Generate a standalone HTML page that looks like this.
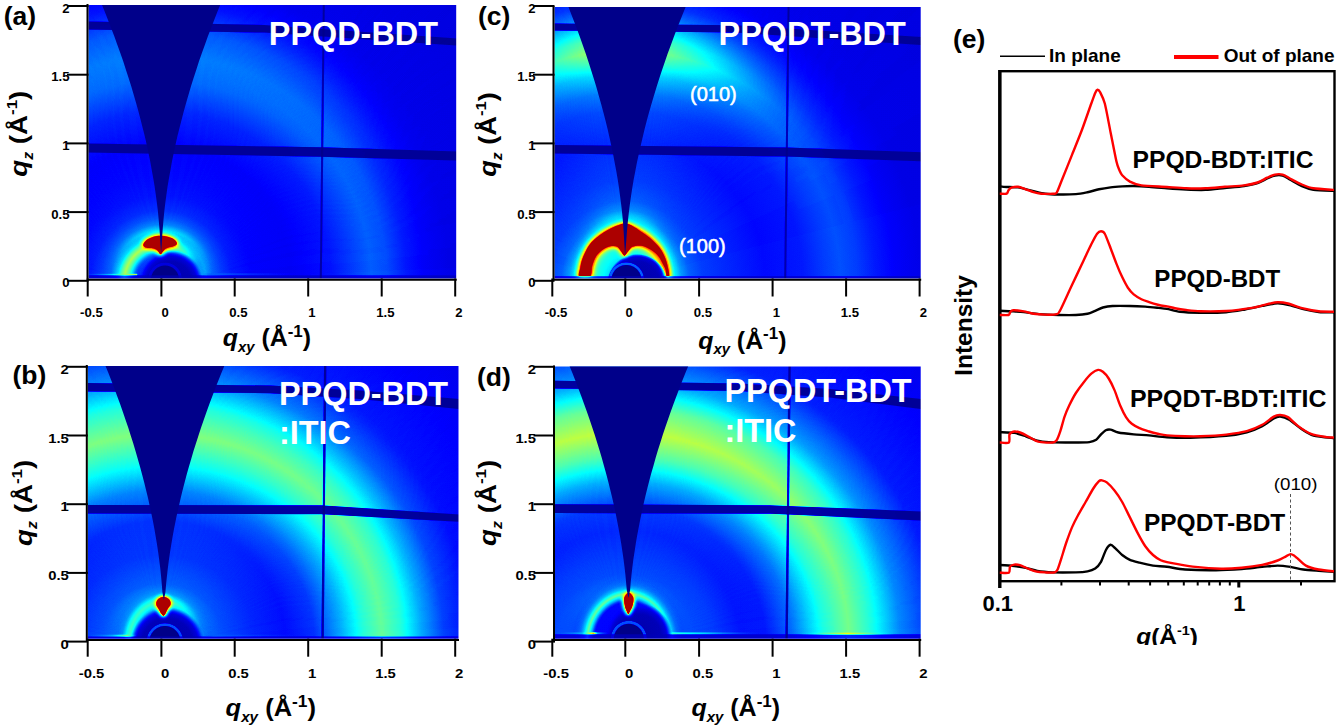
<!DOCTYPE html>
<html><head><meta charset="utf-8"><title>GIWAXS</title>
<style>
html,body{margin:0;padding:0;background:#fff;}
body{width:1339px;height:727px;overflow:hidden;}
svg{display:block;font-family:"Liberation Sans", sans-serif;}

</style></head><body>
<svg width="1339" height="727" viewBox="0 0 1339 727">
<defs>
<filter id="jet" x="0" y="0" width="100%" height="100%" filterUnits="userSpaceOnUse" color-interpolation-filters="sRGB">
<feComponentTransfer>
<feFuncR type="table" tableValues="0 0 0 0 .5 1 1 1 .55"/>
<feFuncG type="table" tableValues="0 0 .5 1 1 1 .5 0 0"/>
<feFuncB type="table" tableValues=".54 1 1 1 .5 0 0 0 0"/>
</feComponentTransfer></filter>
<clipPath id="clipa"><rect x="88.5" y="5" width="367.7" height="273.5"/></clipPath>
<radialGradient id="Aa" gradientUnits="userSpaceOnUse" cx="0" cy="0" r="1" gradientTransform="translate(161.4 280.8) scale(400.00 400.00)"><stop offset="0.0000" stop-color="#0d0d0d"/><stop offset="0.1125" stop-color="#474747"/><stop offset="0.1300" stop-color="#383838"/><stop offset="0.1525" stop-color="#2e2e2e"/><stop offset="0.1775" stop-color="#262626"/><stop offset="0.2250" stop-color="#202020"/><stop offset="0.3250" stop-color="#1e1e1e"/><stop offset="0.4250" stop-color="#252525"/><stop offset="0.4825" stop-color="#303030"/><stop offset="0.5250" stop-color="#383838"/><stop offset="0.5650" stop-color="#333333"/><stop offset="0.6125" stop-color="#262626"/><stop offset="0.6575" stop-color="#1f1f1f"/><stop offset="0.7200" stop-color="#1a1a1a"/><stop offset="1.0000" stop-color="#181818"/></radialGradient>
<radialGradient id="Ba" gradientUnits="userSpaceOnUse" cx="0" cy="0" r="1" gradientTransform="translate(161.4 280.8) scale(400.00 400.00)"><stop offset="0.0000" stop-color="#0d0d0d"/><stop offset="0.1250" stop-color="#5c5c5c"/><stop offset="0.1400" stop-color="#424242"/><stop offset="0.1550" stop-color="#363636"/><stop offset="0.1750" stop-color="#2c2c2c"/><stop offset="0.2125" stop-color="#252525"/><stop offset="0.2625" stop-color="#222222"/><stop offset="0.3375" stop-color="#202020"/><stop offset="0.4250" stop-color="#2a2a2a"/><stop offset="0.5000" stop-color="#3b3b3b"/><stop offset="0.5625" stop-color="#404040"/><stop offset="0.6250" stop-color="#383838"/><stop offset="0.6900" stop-color="#252525"/><stop offset="0.7550" stop-color="#1c1c1c"/><stop offset="1.0000" stop-color="#181818"/></radialGradient>
<filter id="blMa" filterUnits="userSpaceOnUse" x="66.5" y="-17.0" width="411.7" height="317.5" color-interpolation-filters="sRGB"><feGaussianBlur stdDeviation="3.5"/></filter>
<mask id="Ma" maskUnits="userSpaceOnUse" x="86.5" y="3.0" width="371.7" height="277.5"><g filter="url(#blMa)"><rect x="56.5" y="-27.0" width="431.7" height="337.5" fill="#000000"/><path fill="#000000" d="M161 281 L-292 361 L-283 162 L-191 -15 L-33 -136 L161 -179 L356 -136 L514 -15 L606 162 L614 361 Z"/><path fill="#010101" d="M161 281 L-298 265 L-248 72 L-122 -82 L58 -167 L257 -169 L438 -87 L568 65 L621 257 L614 361 Z"/><path fill="#030303" d="M161 281 L-297 241 L-237 51 L-102 -96 L82 -172 L280 -164 L457 -72 L578 86 L621 281 L614 361 Z"/><path fill="#040404" d="M161 281 L-296 229 L-231 40 L-92 -103 L93 -174 L292 -160 L466 -64 L583 97 L621 293 L614 361 Z"/><path fill="#060606" d="M161 281 L-294 217 L-224 30 L-82 -109 L105 -176 L304 -157 L475 -56 L588 108 L621 305 L614 361 Z"/><path fill="#080808" d="M161 281 L-292 205 L-218 20 L-72 -116 L117 -177 L315 -153 L484 -47 L592 120 L620 317 L614 361 Z"/><path fill="#0b0b0b" d="M161 281 L-290 193 L-211 10 L-62 -122 L129 -178 L326 -149 L492 -39 L596 131 L619 329 L614 361 Z"/><path fill="#0d0d0d" d="M161 281 L-288 181 L-204 1 L-51 -127 L141 -179 L337 -144 L501 -30 L600 142 L617 341 L614 361 Z"/><path fill="#111111" d="M161 281 L-285 170 L-196 -9 L-40 -133 L153 -179 L348 -139 L509 -21 L604 154 L616 353 L614 361 Z"/><path fill="#141414" d="M161 281 L-282 158 L-188 -18 L-29 -138 L165 -179 L359 -134 L516 -12 L607 166 L614 361 Z"/><path fill="#181818" d="M161 281 L-279 146 L-180 -27 L-18 -143 L177 -179 L370 -129 L524 -2 L610 177 L614 361 Z"/><path fill="#1c1c1c" d="M161 281 L-275 135 L-172 -36 L-7 -147 L189 -178 L381 -123 L531 7 L612 189 L614 361 Z"/><path fill="#202020" d="M161 281 L-271 123 L-164 -44 L4 -151 L201 -177 L391 -118 L538 17 L614 201 L614 361 Z"/><path fill="#252525" d="M161 281 L-267 112 L-155 -53 L15 -155 L213 -176 L402 -111 L545 27 L616 213 L614 361 Z"/><path fill="#292929" d="M161 281 L-262 101 L-146 -61 L27 -159 L225 -175 L412 -105 L552 37 L618 225 L614 361 Z"/><path fill="#2e2e2e" d="M161 281 L-257 90 L-137 -69 L38 -162 L237 -173 L422 -98 L558 47 L619 237 L614 361 Z"/><path fill="#343434" d="M161 281 L-252 79 L-128 -77 L50 -166 L249 -171 L432 -91 L564 58 L620 249 L614 361 Z"/><path fill="#393939" d="M161 281 L-247 68 L-119 -84 L62 -168 L261 -168 L441 -84 L569 68 L621 261 L614 361 Z"/><path fill="#3f3f3f" d="M161 281 L-241 58 L-109 -91 L74 -171 L273 -166 L451 -77 L575 79 L621 273 L614 361 Z"/><path fill="#454545" d="M161 281 L-235 47 L-99 -98 L85 -173 L284 -162 L460 -69 L580 90 L621 285 L614 361 Z"/><path fill="#4b4b4b" d="M161 281 L-229 37 L-89 -105 L97 -175 L296 -159 L469 -61 L585 101 L621 297 L614 361 Z"/><path fill="#515151" d="M161 281 L-222 27 L-79 -111 L109 -176 L307 -155 L478 -53 L589 112 L621 309 L614 361 Z"/><path fill="#575757" d="M161 281 L-215 17 L-69 -118 L121 -177 L319 -151 L487 -44 L594 123 L620 321 L614 361 Z"/><path fill="#5d5d5d" d="M161 281 L-208 7 L-58 -123 L133 -178 L330 -147 L495 -36 L598 135 L618 333 L614 361 Z"/><path fill="#646464" d="M161 281 L-201 -2 L-47 -129 L145 -179 L341 -143 L503 -27 L601 146 L617 345 L614 361 Z"/><path fill="#6a6a6a" d="M161 281 L-194 -12 L-37 -134 L157 -179 L352 -138 L511 -18 L605 158 L615 357 L614 361 Z"/><path fill="#717171" d="M161 281 L-186 -21 L-26 -139 L169 -179 L363 -133 L519 -9 L608 170 L614 361 Z"/><path fill="#787878" d="M161 281 L-178 -30 L-15 -144 L181 -179 L374 -127 L526 1 L610 181 L614 361 Z"/><path fill="#7e7e7e" d="M161 281 L-169 -39 L-3 -149 L193 -178 L384 -122 L534 10 L613 193 L614 361 Z"/><path fill="#858585" d="M161 281 L-161 -47 L8 -153 L205 -177 L395 -116 L540 20 L615 205 L614 361 Z"/><path fill="#8c8c8c" d="M161 281 L-152 -56 L19 -157 L217 -176 L405 -109 L547 30 L617 217 L614 361 Z"/><path fill="#929292" d="M161 281 L-143 -64 L31 -160 L229 -174 L415 -103 L554 40 L618 229 L614 361 Z"/><path fill="#999999" d="M161 281 L-134 -72 L42 -164 L241 -172 L425 -96 L560 51 L620 241 L614 361 Z"/><path fill="#9f9f9f" d="M161 281 L-125 -79 L54 -166 L253 -170 L435 -89 L566 61 L621 253 L614 361 Z"/><path fill="#a6a6a6" d="M161 281 L-115 -87 L66 -169 L265 -167 L445 -82 L571 72 L621 265 L614 361 Z"/><path fill="#acacac" d="M161 281 L-106 -94 L78 -171 L277 -165 L454 -74 L577 83 L621 277 L614 361 Z"/><path fill="#b2b2b2" d="M161 281 L-96 -101 L89 -174 L288 -161 L463 -66 L582 94 L621 289 L614 361 Z"/><path fill="#b8b8b8" d="M161 281 L-86 -107 L101 -175 L300 -158 L472 -58 L586 105 L621 301 L614 361 Z"/><path fill="#bebebe" d="M161 281 L-76 -113 L113 -177 L311 -154 L481 -50 L591 116 L620 313 L614 361 Z"/><path fill="#c4c4c4" d="M161 281 L-65 -120 L125 -178 L322 -150 L489 -42 L595 127 L619 325 L614 361 Z"/><path fill="#cacaca" d="M161 281 L-55 -125 L137 -179 L334 -146 L498 -33 L599 139 L618 337 L614 361 Z"/><path fill="#cfcfcf" d="M161 281 L-44 -131 L149 -179 L345 -141 L506 -24 L602 150 L616 349 L614 361 Z"/><path fill="#d4d4d4" d="M161 281 L-33 -136 L161 -179 L356 -136 L514 -15 L606 162 L614 361 Z"/><path fill="#d9d9d9" d="M161 281 L-22 -141 L173 -179 L367 -131 L521 -6 L609 173 L614 361 Z"/><path fill="#dedede" d="M161 281 L-11 -146 L185 -179 L377 -125 L529 4 L611 185 L614 361 Z"/><path fill="#e2e2e2" d="M161 281 L0 -150 L197 -178 L388 -120 L536 14 L614 197 L614 361 Z"/><path fill="#e6e6e6" d="M161 281 L12 -154 L209 -177 L398 -113 L543 24 L616 209 L614 361 Z"/><path fill="#eaeaea" d="M161 281 L23 -158 L221 -175 L409 -107 L549 34 L617 221 L614 361 Z"/><path fill="#ededed" d="M161 281 L35 -161 L233 -174 L419 -101 L556 44 L619 233 L614 361 Z"/><path fill="#f1f1f1" d="M161 281 L46 -165 L245 -171 L429 -94 L562 54 L620 245 L614 361 Z"/><path fill="#f4f4f4" d="M161 281 L58 -167 L257 -169 L438 -87 L568 65 L621 257 L614 361 Z"/><path fill="#f6f6f6" d="M161 281 L70 -170 L269 -166 L448 -79 L573 76 L621 269 L614 361 Z"/><path fill="#f8f8f8" d="M161 281 L82 -172 L280 -164 L457 -72 L578 86 L621 281 L614 361 Z"/><path fill="#fafafa" d="M161 281 L93 -174 L292 -160 L466 -64 L583 97 L621 293 L614 361 Z"/><path fill="#fcfcfc" d="M161 281 L105 -176 L304 -157 L475 -56 L588 108 L621 305 L614 361 Z"/><path fill="#fdfdfd" d="M161 281 L117 -177 L315 -153 L484 -47 L592 120 L620 317 L614 361 Z"/><path fill="#fefefe" d="M161 281 L129 -178 L326 -149 L492 -39 L596 131 L619 329 L614 361 Z"/><path fill="#ffffff" d="M161 281 L141 -179 L337 -144 L501 -30 L600 142 L617 341 L614 361 Z"/><path fill="#fefefe" d="M161 281 L177 -179 L370 -129 L524 -2 L610 177 L614 361 Z"/><path fill="#fcfcfc" d="M161 281 L201 -177 L391 -118 L538 17 L614 201 L614 361 Z"/><path fill="#fbfbfb" d="M161 281 L213 -176 L402 -111 L545 27 L616 213 L614 361 Z"/><path fill="#f9f9f9" d="M161 281 L225 -175 L412 -105 L552 37 L618 225 L614 361 Z"/><path fill="#f7f7f7" d="M161 281 L237 -173 L422 -98 L558 47 L619 237 L614 361 Z"/><path fill="#f4f4f4" d="M161 281 L249 -171 L432 -91 L564 58 L620 249 L614 361 Z"/><path fill="#f2f2f2" d="M161 281 L261 -168 L441 -84 L569 68 L621 261 L614 361 Z"/><path fill="#eeeeee" d="M161 281 L273 -166 L451 -77 L575 79 L621 273 L614 361 Z"/><path fill="#ebebeb" d="M161 281 L284 -162 L460 -69 L580 90 L621 285 L614 361 Z"/><path fill="#e7e7e7" d="M161 281 L296 -159 L469 -61 L585 101 L621 297 L614 361 Z"/><path fill="#e3e3e3" d="M161 281 L307 -155 L478 -53 L589 112 L621 309 L614 361 Z"/><path fill="#dfdfdf" d="M161 281 L319 -151 L487 -44 L594 123 L620 321 L614 361 Z"/><path fill="#dadada" d="M161 281 L330 -147 L495 -36 L598 135 L618 333 L614 361 Z"/><path fill="#d6d6d6" d="M161 281 L341 -143 L503 -27 L601 146 L617 345 L614 361 Z"/><path fill="#d1d1d1" d="M161 281 L352 -138 L511 -18 L605 158 L615 357 L614 361 Z"/><path fill="#cbcbcb" d="M161 281 L363 -133 L519 -9 L608 170 L614 361 Z"/><path fill="#c6c6c6" d="M161 281 L374 -127 L526 1 L610 181 L614 361 Z"/><path fill="#c0c0c0" d="M161 281 L384 -122 L534 10 L613 193 L614 361 Z"/><path fill="#bababa" d="M161 281 L395 -116 L540 20 L615 205 L614 361 Z"/><path fill="#b4b4b4" d="M161 281 L405 -109 L547 30 L617 217 L614 361 Z"/><path fill="#aeaeae" d="M161 281 L415 -103 L554 40 L618 229 L614 361 Z"/><path fill="#a8a8a8" d="M161 281 L425 -96 L560 51 L620 241 L614 361 Z"/><path fill="#a2a2a2" d="M161 281 L435 -89 L566 61 L621 253 L614 361 Z"/><path fill="#9b9b9b" d="M161 281 L445 -82 L571 72 L621 265 L614 361 Z"/><path fill="#959595" d="M161 281 L454 -74 L577 83 L621 277 L614 361 Z"/><path fill="#8e8e8e" d="M161 281 L463 -66 L582 94 L621 289 L614 361 Z"/><path fill="#878787" d="M161 281 L472 -58 L586 105 L621 301 L614 361 Z"/><path fill="#818181" d="M161 281 L481 -50 L591 116 L620 313 L614 361 Z"/><path fill="#7a7a7a" d="M161 281 L489 -42 L595 127 L619 325 L614 361 Z"/><path fill="#737373" d="M161 281 L498 -33 L599 139 L618 337 L614 361 Z"/><path fill="#6d6d6d" d="M161 281 L506 -24 L602 150 L616 349 L614 361 Z"/><path fill="#666666" d="M161 281 L514 -15 L606 162 L614 361 Z"/><path fill="#606060" d="M161 281 L521 -6 L609 173 L614 361 Z"/><path fill="#595959" d="M161 281 L529 4 L611 185 L614 361 Z"/><path fill="#535353" d="M161 281 L536 14 L614 197 L614 361 Z"/><path fill="#4d4d4d" d="M161 281 L543 24 L616 209 L614 361 Z"/><path fill="#474747" d="M161 281 L549 34 L617 221 L614 361 Z"/><path fill="#414141" d="M161 281 L556 44 L619 233 L614 361 Z"/><path fill="#3b3b3b" d="M161 281 L562 54 L620 245 L614 361 Z"/><path fill="#353535" d="M161 281 L568 65 L621 257 L614 361 Z"/><path fill="#303030" d="M161 281 L573 76 L621 269 L614 361 Z"/><path fill="#2b2b2b" d="M161 281 L578 86 L621 281 L614 361 Z"/><path fill="#262626" d="M161 281 L583 97 L621 293 L614 361 Z"/><path fill="#212121" d="M161 281 L588 108 L621 305 L614 361 Z"/><path fill="#1d1d1d" d="M161 281 L592 120 L620 317 L614 361 Z"/><path fill="#191919" d="M161 281 L596 131 L619 329 L614 361 Z"/><path fill="#151515" d="M161 281 L600 142 L617 341 L614 361 Z"/><path fill="#121212" d="M161 281 L604 154 L616 353 L614 361 Z"/><path fill="#0e0e0e" d="M161 281 L607 166 L614 361 Z"/><path fill="#0b0b0b" d="M161 281 L610 177 L614 361 Z"/><path fill="#090909" d="M161 281 L612 189 L614 361 Z"/><path fill="#070707" d="M161 281 L614 201 L614 361 Z"/><path fill="#050505" d="M161 281 L616 213 L614 361 Z"/><path fill="#030303" d="M161 281 L618 225 L614 361 Z"/><path fill="#020202" d="M161 281 L619 237 L614 361 Z"/><path fill="#010101" d="M161 281 L620 249 L614 361 Z"/><path fill="#000000" d="M161 281 L621 261 L614 361 Z"/></g></mask>
<radialGradient id="La0" gradientUnits="userSpaceOnUse" cx="0" cy="0" r="1" gradientTransform="translate(161.4 281) scale(51.00 51.00)"><stop offset="0.4902" stop-color="#333333" stop-opacity="0"/><stop offset="0.5686" stop-color="#4c4c4c"/><stop offset="0.6569" stop-color="#757575"/><stop offset="0.7255" stop-color="#8c8c8c"/><stop offset="0.7941" stop-color="#757575"/><stop offset="0.8627" stop-color="#5c5c5c" stop-opacity="0.8"/><stop offset="1.0000" stop-color="#474747" stop-opacity="0"/></radialGradient>
<filter id="blLMa0" filterUnits="userSpaceOnUse" x="88.4" y="208.0" width="146.0" height="146.0" color-interpolation-filters="sRGB"><feGaussianBlur stdDeviation="1.2"/></filter>
<mask id="LMa0" maskUnits="userSpaceOnUse" x="108.4" y="228.0" width="106.0" height="106.0"><g filter="url(#blLMa0)"><rect x="78.4" y="198.0" width="166.0" height="166.0" fill="#ffffff"/><path fill="#ffffff" d="M161 281 L78 296 L79 259 L96 226 L126 204 L161 196 L197 204 L226 226 L243 259 L245 296 Z"/><path fill="#f6f6f6" d="M161 281 L185 199 L217 217 L239 247 L246 282 L245 296 Z"/><path fill="#ededed" d="M161 281 L188 200 L219 219 L240 249 L246 285 L245 296 Z"/><path fill="#e3e3e3" d="M161 281 L190 201 L221 221 L241 252 L246 288 L245 296 Z"/><path fill="#dadada" d="M161 281 L193 202 L223 223 L242 255 L246 291 L245 296 Z"/><path fill="#d1d1d1" d="M161 281 L196 204 L225 225 L243 258 L245 294 L245 296 Z"/><path fill="#c8c8c8" d="M161 281 L199 205 L227 228 L244 260 L245 296 Z"/><path fill="#bfbfbf" d="M161 281 L201 206 L229 230 L244 263 L245 296 Z"/><path fill="#b6b6b6" d="M161 281 L204 208 L231 232 L245 266 L245 296 Z"/><path fill="#acacac" d="M161 281 L206 209 L233 235 L245 269 L245 296 Z"/><path fill="#a3a3a3" d="M161 281 L209 211 L234 237 L246 272 L245 296 Z"/><path fill="#9a9a9a" d="M161 281 L211 212 L236 240 L246 275 L245 296 Z"/><path fill="#919191" d="M161 281 L214 214 L237 243 L246 278 L245 296 Z"/><path fill="#888888" d="M161 281 L216 216 L238 245 L246 281 L245 296 Z"/><path fill="#7e7e7e" d="M161 281 L218 218 L239 248 L246 284 L245 296 Z"/><path fill="#757575" d="M161 281 L220 220 L241 251 L246 287 L245 296 Z"/><path fill="#6c6c6c" d="M161 281 L222 222 L242 253 L246 290 L245 296 Z"/><path fill="#636363" d="M161 281 L224 224 L242 256 L245 293 L245 296 Z"/><path fill="#5a5a5a" d="M161 281 L226 226 L243 259 L245 296 Z"/><path fill="#515151" d="M161 281 L228 229 L244 262 L245 296 Z"/><path fill="#474747" d="M161 281 L230 231 L245 265 L245 296 Z"/><path fill="#3e3e3e" d="M161 281 L232 234 L245 268 L245 296 Z"/><path fill="#353535" d="M161 281 L233 236 L246 271 L245 296 Z"/><path fill="#2c2c2c" d="M161 281 L235 239 L246 274 L245 296 Z"/><path fill="#232323" d="M161 281 L236 241 L246 277 L245 296 Z"/><path fill="#1a1a1a" d="M161 281 L238 244 L246 280 L245 296 Z"/></g></mask>
<radialGradient id="La1" gradientUnits="userSpaceOnUse" cx="0" cy="0" r="1" gradientTransform="translate(170.7 282.5) scale(32.50 32.50)"><stop offset="0.0000" stop-color="#080808"/><stop offset="0.6462" stop-color="#0d0d0d"/><stop offset="0.8000" stop-color="#161616"/><stop offset="0.8923" stop-color="#1f1f1f" stop-opacity="0.75"/><stop offset="1.0000" stop-color="#333333" stop-opacity="0"/></radialGradient>
<filter id="La2" filterUnits="userSpaceOnUse" x="128" y="221" width="64" height="49" color-interpolation-filters="sRGB"><feGaussianBlur stdDeviation="2.5"/></filter>
<filter id="La2c" filterUnits="userSpaceOnUse" x="128" y="221" width="64" height="49" color-interpolation-filters="sRGB"><feGaussianBlur stdDeviation="0.7"/></filter>
<radialGradient id="La3" gradientUnits="userSpaceOnUse" cx="0" cy="0" r="1" gradientTransform="translate(165 279.5) scale(17.50 17.50)"><stop offset="0.0000" stop-color="#000000"/><stop offset="0.7714" stop-color="#000000"/><stop offset="0.8286" stop-color="#171717"/><stop offset="0.9429" stop-color="#171717"/><stop offset="1.0000" stop-color="#0d0d0d" stop-opacity="0"/></radialGradient>
<linearGradient id="Ha0" gradientUnits="userSpaceOnUse" x1="88" y1="0" x2="138" y2="0"><stop offset="0" stop-color="#333333" stop-opacity="0.3"/><stop offset="0.45" stop-color="#545454" stop-opacity="1"/><stop offset="0.75" stop-color="#858585" stop-opacity="1"/><stop offset="0.97" stop-color="#8c8c8c" stop-opacity="1"/><stop offset="1" stop-color="#4c4c4c" stop-opacity="0"/></linearGradient>
<linearGradient id="Ha1" gradientUnits="userSpaceOnUse" x1="203" y1="0" x2="300" y2="0"><stop offset="0" stop-color="#333333" stop-opacity="0"/><stop offset="0.1" stop-color="#383838" stop-opacity="0.8"/><stop offset="1" stop-color="#333333" stop-opacity="0"/></linearGradient>
<clipPath id="clipc"><rect x="554.5" y="7" width="366.20000000000005" height="271.5"/></clipPath>
<radialGradient id="Ac" gradientUnits="userSpaceOnUse" cx="0" cy="0" r="1" gradientTransform="translate(625.3 280.8) scale(400.00 400.00)"><stop offset="0.0000" stop-color="#0d0d0d"/><stop offset="0.1250" stop-color="#5c5c5c"/><stop offset="0.1400" stop-color="#474747"/><stop offset="0.1600" stop-color="#383838"/><stop offset="0.1950" stop-color="#2f2f2f"/><stop offset="0.2500" stop-color="#2a2a2a"/><stop offset="0.3500" stop-color="#222222"/><stop offset="0.4450" stop-color="#262626"/><stop offset="0.5000" stop-color="#2f2f2f"/><stop offset="0.5375" stop-color="#343434"/><stop offset="0.5800" stop-color="#2f2f2f"/><stop offset="0.6250" stop-color="#262626"/><stop offset="0.6750" stop-color="#1f1f1f"/><stop offset="0.7375" stop-color="#1a1a1a"/><stop offset="1.0000" stop-color="#181818"/></radialGradient>
<radialGradient id="Bc" gradientUnits="userSpaceOnUse" cx="0" cy="0" r="1" gradientTransform="translate(625.3 280.8) scale(400.00 400.00)"><stop offset="0.0000" stop-color="#0d0d0d"/><stop offset="0.1450" stop-color="#666666"/><stop offset="0.1600" stop-color="#575757"/><stop offset="0.1750" stop-color="#454545"/><stop offset="0.2000" stop-color="#383838"/><stop offset="0.2500" stop-color="#303030"/><stop offset="0.3500" stop-color="#2b2b2b"/><stop offset="0.4250" stop-color="#333333"/><stop offset="0.4700" stop-color="#404040"/><stop offset="0.5175" stop-color="#595959"/><stop offset="0.5475" stop-color="#737373"/><stop offset="0.5750" stop-color="#878787"/><stop offset="0.6050" stop-color="#787878"/><stop offset="0.6350" stop-color="#5c5c5c"/><stop offset="0.6625" stop-color="#424242"/><stop offset="0.6900" stop-color="#303030"/><stop offset="0.7375" stop-color="#222222"/><stop offset="0.8250" stop-color="#1b1b1b"/><stop offset="1.0000" stop-color="#181818"/></radialGradient>
<filter id="blMc" filterUnits="userSpaceOnUse" x="532.5" y="-15.0" width="410.2" height="315.5" color-interpolation-filters="sRGB"><feGaussianBlur stdDeviation="3.5"/></filter>
<mask id="Mc" maskUnits="userSpaceOnUse" x="552.5" y="5.0" width="370.2" height="275.5"><g filter="url(#blMc)"><rect x="522.5" y="-25.0" width="430.2" height="335.5" fill="#000000"/><path fill="#000000" d="M625 281 L172 361 L181 162 L273 -15 L431 -136 L625 -179 L820 -136 L978 -15 L1070 162 L1078 361 Z"/><path fill="#010101" d="M625 281 L179 170 L268 -9 L424 -133 L617 -179 L812 -139 L972 -21 L1067 154 L1080 353 L1078 361 Z"/><path fill="#020202" d="M625 281 L197 112 L309 -53 L479 -155 L677 -176 L866 -111 L1009 27 L1080 213 L1078 361 Z"/><path fill="#030303" d="M625 281 L207 90 L327 -69 L502 -162 L701 -173 L886 -98 L1022 47 L1083 237 L1078 361 Z"/><path fill="#040404" d="M625 281 L217 68 L345 -84 L526 -168 L725 -168 L905 -84 L1033 68 L1085 261 L1078 361 Z"/><path fill="#050505" d="M625 281 L223 58 L355 -91 L538 -171 L737 -166 L915 -77 L1039 79 L1085 273 L1078 361 Z"/><path fill="#060606" d="M625 281 L229 47 L365 -98 L549 -173 L748 -162 L924 -69 L1044 90 L1085 285 L1078 361 Z"/><path fill="#070707" d="M625 281 L235 37 L375 -105 L561 -175 L760 -159 L933 -61 L1049 101 L1085 297 L1078 361 Z"/><path fill="#090909" d="M625 281 L242 27 L385 -111 L573 -176 L771 -155 L942 -53 L1053 112 L1084 309 L1078 361 Z"/><path fill="#0a0a0a" d="M625 281 L248 17 L395 -118 L585 -177 L783 -151 L951 -44 L1058 123 L1084 321 L1078 361 Z"/><path fill="#0c0c0c" d="M625 281 L256 7 L406 -123 L597 -178 L794 -147 L959 -36 L1062 135 L1082 333 L1078 361 Z"/><path fill="#0f0f0f" d="M625 281 L263 -2 L416 -129 L609 -179 L805 -143 L967 -27 L1065 146 L1081 345 L1078 361 Z"/><path fill="#111111" d="M625 281 L270 -12 L427 -134 L621 -179 L816 -138 L975 -18 L1069 158 L1079 357 L1078 361 Z"/><path fill="#141414" d="M625 281 L278 -21 L438 -139 L633 -179 L827 -133 L983 -9 L1072 170 L1078 361 Z"/><path fill="#181818" d="M625 281 L286 -30 L449 -144 L645 -179 L838 -127 L990 1 L1074 181 L1078 361 Z"/><path fill="#1c1c1c" d="M625 281 L294 -39 L460 -149 L657 -178 L848 -122 L997 10 L1077 193 L1078 361 Z"/><path fill="#202020" d="M625 281 L303 -47 L472 -153 L669 -177 L859 -116 L1004 20 L1079 205 L1078 361 Z"/><path fill="#252525" d="M625 281 L312 -56 L483 -157 L681 -176 L869 -109 L1011 30 L1081 217 L1078 361 Z"/><path fill="#2b2b2b" d="M625 281 L320 -64 L495 -160 L693 -174 L879 -103 L1018 40 L1082 229 L1078 361 Z"/><path fill="#313131" d="M625 281 L330 -72 L506 -164 L705 -172 L889 -96 L1024 51 L1084 241 L1078 361 Z"/><path fill="#373737" d="M625 281 L339 -79 L518 -166 L717 -170 L899 -89 L1030 61 L1084 253 L1078 361 Z"/><path fill="#3f3f3f" d="M625 281 L348 -87 L530 -169 L729 -167 L909 -82 L1035 72 L1085 265 L1078 361 Z"/><path fill="#474747" d="M625 281 L358 -94 L541 -171 L740 -165 L918 -74 L1040 83 L1085 277 L1078 361 Z"/><path fill="#4f4f4f" d="M625 281 L368 -101 L553 -174 L752 -161 L927 -66 L1046 94 L1085 289 L1078 361 Z"/><path fill="#585858" d="M625 281 L378 -107 L565 -175 L764 -158 L936 -58 L1050 105 L1085 301 L1078 361 Z"/><path fill="#626262" d="M625 281 L388 -113 L577 -177 L775 -154 L945 -50 L1055 116 L1084 313 L1078 361 Z"/><path fill="#6c6c6c" d="M625 281 L399 -120 L589 -178 L786 -150 L953 -42 L1059 127 L1083 325 L1078 361 Z"/><path fill="#767676" d="M625 281 L409 -125 L601 -179 L798 -146 L962 -33 L1063 139 L1082 337 L1078 361 Z"/><path fill="#818181" d="M625 281 L420 -131 L613 -179 L809 -141 L970 -24 L1066 150 L1080 349 L1078 361 Z"/><path fill="#8d8d8d" d="M625 281 L431 -136 L625 -179 L820 -136 L978 -15 L1070 162 L1078 361 Z"/><path fill="#989898" d="M625 281 L442 -141 L637 -179 L831 -131 L985 -6 L1073 173 L1078 361 Z"/><path fill="#a4a4a4" d="M625 281 L453 -146 L649 -179 L841 -125 L993 4 L1075 185 L1078 361 Z"/><path fill="#afafaf" d="M625 281 L464 -150 L661 -178 L852 -120 L1000 14 L1078 197 L1078 361 Z"/><path fill="#bbbbbb" d="M625 281 L476 -154 L673 -177 L862 -113 L1007 24 L1080 209 L1078 361 Z"/><path fill="#c6c6c6" d="M625 281 L487 -158 L685 -175 L872 -107 L1013 34 L1081 221 L1078 361 Z"/><path fill="#d1d1d1" d="M625 281 L499 -161 L697 -174 L883 -101 L1020 44 L1083 233 L1078 361 Z"/><path fill="#dbdbdb" d="M625 281 L510 -165 L709 -171 L892 -94 L1026 54 L1084 245 L1078 361 Z"/><path fill="#e5e5e5" d="M625 281 L522 -167 L721 -169 L902 -87 L1031 65 L1085 257 L1078 361 Z"/><path fill="#eeeeee" d="M625 281 L534 -170 L733 -166 L912 -79 L1037 76 L1085 269 L1078 361 Z"/><path fill="#f6f6f6" d="M625 281 L545 -172 L744 -164 L921 -72 L1042 86 L1085 281 L1078 361 Z"/><path fill="#fdfdfd" d="M625 281 L557 -174 L756 -160 L930 -64 L1047 97 L1085 293 L1078 361 Z"/><path fill="#ffffff" d="M625 281 L569 -176 L767 -157 L939 -56 L1052 108 L1085 305 L1078 361 Z"/><path fill="#fdfdfd" d="M625 281 L641 -179 L834 -129 L988 -2 L1074 177 L1078 361 Z"/><path fill="#fafafa" d="M625 281 L653 -178 L845 -123 L995 7 L1076 189 L1078 361 Z"/><path fill="#f6f6f6" d="M625 281 L665 -177 L855 -118 L1002 17 L1078 201 L1078 361 Z"/><path fill="#f1f1f1" d="M625 281 L677 -176 L866 -111 L1009 27 L1080 213 L1078 361 Z"/><path fill="#eaeaea" d="M625 281 L689 -175 L876 -105 L1015 37 L1082 225 L1078 361 Z"/><path fill="#e3e3e3" d="M625 281 L701 -173 L886 -98 L1022 47 L1083 237 L1078 361 Z"/><path fill="#dbdbdb" d="M625 281 L713 -171 L896 -91 L1028 58 L1084 249 L1078 361 Z"/><path fill="#d2d2d2" d="M625 281 L725 -168 L905 -84 L1033 68 L1085 261 L1078 361 Z"/><path fill="#c8c8c8" d="M625 281 L737 -166 L915 -77 L1039 79 L1085 273 L1078 361 Z"/><path fill="#bebebe" d="M625 281 L748 -162 L924 -69 L1044 90 L1085 285 L1078 361 Z"/><path fill="#b4b4b4" d="M625 281 L760 -159 L933 -61 L1049 101 L1085 297 L1078 361 Z"/><path fill="#a9a9a9" d="M625 281 L771 -155 L942 -53 L1053 112 L1084 309 L1078 361 Z"/><path fill="#9e9e9e" d="M625 281 L783 -151 L951 -44 L1058 123 L1084 321 L1078 361 Z"/><path fill="#939393" d="M625 281 L794 -147 L959 -36 L1062 135 L1082 333 L1078 361 Z"/><path fill="#888888" d="M625 281 L805 -143 L967 -27 L1065 146 L1081 345 L1078 361 Z"/><path fill="#7e7e7e" d="M625 281 L816 -138 L975 -18 L1069 158 L1079 357 L1078 361 Z"/><path fill="#737373" d="M625 281 L827 -133 L983 -9 L1072 170 L1078 361 Z"/><path fill="#696969" d="M625 281 L838 -127 L990 1 L1074 181 L1078 361 Z"/><path fill="#5f5f5f" d="M625 281 L848 -122 L997 10 L1077 193 L1078 361 Z"/><path fill="#565656" d="M625 281 L859 -116 L1004 20 L1079 205 L1078 361 Z"/><path fill="#4d4d4d" d="M625 281 L869 -109 L1011 30 L1081 217 L1078 361 Z"/><path fill="#454545" d="M625 281 L879 -103 L1018 40 L1082 229 L1078 361 Z"/><path fill="#3e3e3e" d="M625 281 L889 -96 L1024 51 L1084 241 L1078 361 Z"/><path fill="#373737" d="M625 281 L899 -89 L1030 61 L1084 253 L1078 361 Z"/><path fill="#303030" d="M625 281 L909 -82 L1035 72 L1085 265 L1078 361 Z"/><path fill="#2a2a2a" d="M625 281 L918 -74 L1040 83 L1085 277 L1078 361 Z"/><path fill="#252525" d="M625 281 L927 -66 L1046 94 L1085 289 L1078 361 Z"/><path fill="#202020" d="M625 281 L936 -58 L1050 105 L1085 301 L1078 361 Z"/><path fill="#1c1c1c" d="M625 281 L945 -50 L1055 116 L1084 313 L1078 361 Z"/><path fill="#181818" d="M625 281 L953 -42 L1059 127 L1083 325 L1078 361 Z"/><path fill="#141414" d="M625 281 L962 -33 L1063 139 L1082 337 L1078 361 Z"/><path fill="#111111" d="M625 281 L970 -24 L1066 150 L1080 349 L1078 361 Z"/><path fill="#0f0f0f" d="M625 281 L978 -15 L1070 162 L1078 361 Z"/><path fill="#0c0c0c" d="M625 281 L985 -6 L1073 173 L1078 361 Z"/><path fill="#0a0a0a" d="M625 281 L993 4 L1075 185 L1078 361 Z"/><path fill="#090909" d="M625 281 L1000 14 L1078 197 L1078 361 Z"/><path fill="#070707" d="M625 281 L1007 24 L1080 209 L1078 361 Z"/><path fill="#060606" d="M625 281 L1013 34 L1081 221 L1078 361 Z"/><path fill="#050505" d="M625 281 L1020 44 L1083 233 L1078 361 Z"/><path fill="#040404" d="M625 281 L1026 54 L1084 245 L1078 361 Z"/><path fill="#030303" d="M625 281 L1031 65 L1085 257 L1078 361 Z"/><path fill="#020202" d="M625 281 L1042 86 L1085 281 L1078 361 Z"/><path fill="#010101" d="M625 281 L1052 108 L1085 305 L1078 361 Z"/><path fill="#000000" d="M625 281 L1071 166 L1078 361 Z"/></g></mask>
<radialGradient id="Lc0" gradientUnits="userSpaceOnUse" cx="0" cy="0" r="1" gradientTransform="translate(625 281) scale(56.00 67.20)"><stop offset="0.2321" stop-color="#333333" stop-opacity="0"/><stop offset="0.2946" stop-color="#575757"/><stop offset="0.3929" stop-color="#606060"/><stop offset="0.4821" stop-color="#666666"/><stop offset="0.5536" stop-color="#757575"/><stop offset="0.6429" stop-color="#999999"/><stop offset="0.7857" stop-color="#999999"/><stop offset="0.8393" stop-color="#737373"/><stop offset="0.8929" stop-color="#5c5c5c" stop-opacity="0.8"/><stop offset="1.0000" stop-color="#4c4c4c" stop-opacity="0"/></radialGradient>
<radialGradient id="Lc1" gradientUnits="userSpaceOnUse" cx="0" cy="0" r="1" gradientTransform="translate(637.4 284.5) scale(31.00 31.00)"><stop offset="0.0000" stop-color="#080808"/><stop offset="0.7419" stop-color="#0d0d0d"/><stop offset="0.8871" stop-color="#161616"/><stop offset="0.9452" stop-color="#262626" stop-opacity="0.8"/><stop offset="1.0000" stop-color="#4c4c4c" stop-opacity="0"/></radialGradient>
<filter id="Lc2" filterUnits="userSpaceOnUse" x="564" y="208" width="120" height="83" color-interpolation-filters="sRGB"><feGaussianBlur stdDeviation="2.4"/></filter>
<filter id="Lc2c" filterUnits="userSpaceOnUse" x="564" y="208" width="120" height="83" color-interpolation-filters="sRGB"><feGaussianBlur stdDeviation="0.7"/></filter>
<radialGradient id="Lc3" gradientUnits="userSpaceOnUse" cx="0" cy="0" r="1" gradientTransform="translate(626.4 280) scale(18.20 18.20)"><stop offset="0.0000" stop-color="#000000"/><stop offset="0.7967" stop-color="#000000"/><stop offset="0.8516" stop-color="#383838"/><stop offset="0.9451" stop-color="#383838"/><stop offset="1.0000" stop-color="#141414" stop-opacity="0"/></radialGradient>
<clipPath id="clipb"><rect x="87.8" y="366" width="370.7" height="272.70000000000005"/></clipPath>
<radialGradient id="Ab" gradientUnits="userSpaceOnUse" cx="0" cy="0" r="1" gradientTransform="translate(161.4 641.5) scale(414.00 386.00)"><stop offset="0.0000" stop-color="#0d0d0d"/><stop offset="0.1000" stop-color="#3d3d3d"/><stop offset="0.1500" stop-color="#333333"/><stop offset="0.2250" stop-color="#292929"/><stop offset="0.3000" stop-color="#232323"/><stop offset="0.3700" stop-color="#2d2d2d"/><stop offset="0.4325" stop-color="#4a4a4a"/><stop offset="0.4875" stop-color="#696969"/><stop offset="0.5325" stop-color="#797979"/><stop offset="0.5800" stop-color="#696969"/><stop offset="0.6275" stop-color="#4b4b4b"/><stop offset="0.6825" stop-color="#303030"/><stop offset="0.7500" stop-color="#222222"/><stop offset="1.0000" stop-color="#1c1c1c"/></radialGradient>
<radialGradient id="Bb" gradientUnits="userSpaceOnUse" cx="0" cy="0" r="1" gradientTransform="translate(161.4 641.5) scale(414.00 386.00)"><stop offset="0.0000" stop-color="#0d0d0d"/><stop offset="0.1125" stop-color="#4c4c4c"/><stop offset="0.1500" stop-color="#383838"/><stop offset="0.2250" stop-color="#2e2e2e"/><stop offset="0.3125" stop-color="#2d2d2d"/><stop offset="0.3925" stop-color="#424242"/><stop offset="0.4600" stop-color="#636363"/><stop offset="0.5375" stop-color="#808080"/><stop offset="0.6100" stop-color="#696969"/><stop offset="0.6775" stop-color="#454545"/><stop offset="0.7675" stop-color="#292929"/><stop offset="1.0000" stop-color="#1c1c1c"/></radialGradient>
<filter id="blMb" filterUnits="userSpaceOnUse" x="65.8" y="344.0" width="414.7" height="316.7" color-interpolation-filters="sRGB"><feGaussianBlur stdDeviation="3.5"/></filter>
<mask id="Mb" maskUnits="userSpaceOnUse" x="85.8" y="364.0" width="374.7" height="276.7"><g filter="url(#blMb)"><rect x="55.8" y="334.0" width="434.7" height="336.7" fill="#000000"/><path fill="#000000" d="M161 642 L-292 721 L-283 522 L-191 346 L-33 225 L161 182 L356 225 L514 346 L606 522 L614 721 Z"/><path fill="#010101" d="M161 642 L-298 625 L-248 433 L-122 279 L58 193 L257 192 L438 274 L568 426 L621 617 L614 721 Z"/><path fill="#030303" d="M161 642 L-297 601 L-237 411 L-102 265 L82 188 L280 197 L457 289 L578 447 L621 642 L614 721 Z"/><path fill="#040404" d="M161 642 L-296 589 L-231 401 L-92 258 L93 187 L292 200 L466 297 L583 458 L621 654 L614 721 Z"/><path fill="#060606" d="M161 642 L-294 577 L-224 391 L-82 251 L105 185 L304 204 L475 305 L588 469 L621 666 L614 721 Z"/><path fill="#080808" d="M161 642 L-292 566 L-218 381 L-72 245 L117 184 L315 208 L484 313 L592 480 L620 678 L614 721 Z"/><path fill="#0b0b0b" d="M161 642 L-290 554 L-211 371 L-62 239 L129 183 L326 212 L492 322 L596 492 L619 690 L614 721 Z"/><path fill="#0d0d0d" d="M161 642 L-288 542 L-204 361 L-51 233 L141 182 L337 217 L501 331 L600 503 L617 702 L614 721 Z"/><path fill="#111111" d="M161 642 L-285 530 L-196 352 L-40 228 L153 182 L348 221 L509 340 L604 515 L616 713 L614 721 Z"/><path fill="#141414" d="M161 642 L-282 519 L-188 343 L-29 223 L165 182 L359 226 L516 349 L607 526 L614 721 Z"/><path fill="#181818" d="M161 642 L-279 507 L-180 334 L-18 218 L177 182 L370 232 L524 358 L610 538 L614 721 Z"/><path fill="#1c1c1c" d="M161 642 L-275 496 L-172 325 L-7 214 L189 182 L381 237 L531 368 L612 550 L614 721 Z"/><path fill="#202020" d="M161 642 L-271 484 L-164 316 L4 209 L201 183 L391 243 L538 378 L614 562 L614 721 Z"/><path fill="#252525" d="M161 642 L-267 473 L-155 308 L15 205 L213 184 L402 249 L545 388 L616 574 L614 721 Z"/><path fill="#292929" d="M161 642 L-262 462 L-146 300 L27 202 L225 186 L412 256 L552 398 L618 585 L614 721 Z"/><path fill="#2e2e2e" d="M161 642 L-257 451 L-137 292 L38 198 L237 188 L422 262 L558 408 L619 597 L614 721 Z"/><path fill="#343434" d="M161 642 L-252 440 L-128 284 L50 195 L249 190 L432 269 L564 418 L620 609 L614 721 Z"/><path fill="#393939" d="M161 642 L-247 429 L-119 277 L62 192 L261 192 L441 277 L569 429 L621 621 L614 721 Z"/><path fill="#3f3f3f" d="M161 642 L-241 418 L-109 269 L74 190 L273 195 L451 284 L575 440 L621 633 L614 721 Z"/><path fill="#454545" d="M161 642 L-235 408 L-99 262 L85 188 L284 198 L460 292 L580 451 L621 646 L614 721 Z"/><path fill="#4b4b4b" d="M161 642 L-229 398 L-89 256 L97 186 L296 202 L469 300 L585 462 L621 658 L614 721 Z"/><path fill="#515151" d="M161 642 L-222 388 L-79 249 L109 184 L307 205 L478 308 L589 473 L621 670 L614 721 Z"/><path fill="#575757" d="M161 642 L-215 378 L-69 243 L121 183 L319 209 L487 316 L594 484 L620 682 L614 721 Z"/><path fill="#5d5d5d" d="M161 642 L-208 368 L-58 237 L133 182 L330 214 L495 325 L598 496 L618 694 L614 721 Z"/><path fill="#646464" d="M161 642 L-201 358 L-47 232 L145 182 L341 218 L503 334 L601 507 L617 706 L614 721 Z"/><path fill="#6a6a6a" d="M161 642 L-194 349 L-37 226 L157 182 L352 223 L511 343 L605 519 L615 717 L614 721 Z"/><path fill="#717171" d="M161 642 L-186 340 L-26 221 L169 182 L363 228 L519 352 L608 530 L614 721 Z"/><path fill="#787878" d="M161 642 L-178 331 L-15 217 L181 182 L374 233 L526 361 L610 542 L614 721 Z"/><path fill="#7e7e7e" d="M161 642 L-169 322 L-3 212 L193 183 L384 239 L534 371 L613 554 L614 721 Z"/><path fill="#858585" d="M161 642 L-161 313 L8 208 L205 184 L395 245 L540 381 L615 566 L614 721 Z"/><path fill="#8c8c8c" d="M161 642 L-152 305 L19 204 L217 185 L405 251 L547 391 L617 577 L614 721 Z"/><path fill="#929292" d="M161 642 L-143 297 L31 200 L229 187 L415 258 L554 401 L618 589 L614 721 Z"/><path fill="#999999" d="M161 642 L-134 289 L42 197 L241 188 L425 265 L560 411 L620 601 L614 721 Z"/><path fill="#9f9f9f" d="M161 642 L-125 282 L54 194 L253 191 L435 272 L566 422 L621 613 L614 721 Z"/><path fill="#a6a6a6" d="M161 642 L-115 274 L66 192 L265 193 L445 279 L571 433 L621 625 L614 721 Z"/><path fill="#acacac" d="M161 642 L-106 267 L78 189 L277 196 L454 287 L577 443 L621 637 L614 721 Z"/><path fill="#b2b2b2" d="M161 642 L-96 260 L89 187 L288 199 L463 294 L582 454 L621 650 L614 721 Z"/><path fill="#b8b8b8" d="M161 642 L-86 254 L101 185 L300 203 L472 302 L586 465 L621 662 L614 721 Z"/><path fill="#bebebe" d="M161 642 L-76 247 L113 184 L311 207 L481 311 L591 477 L620 674 L614 721 Z"/><path fill="#c4c4c4" d="M161 642 L-65 241 L125 183 L322 211 L489 319 L595 488 L619 686 L614 721 Z"/><path fill="#cacaca" d="M161 642 L-55 235 L137 182 L334 215 L498 328 L599 499 L618 698 L614 721 Z"/><path fill="#cfcfcf" d="M161 642 L-44 230 L149 182 L345 220 L506 337 L602 511 L616 709 L614 721 Z"/><path fill="#d4d4d4" d="M161 642 L-33 225 L161 182 L356 225 L514 346 L606 522 L614 721 Z"/><path fill="#d9d9d9" d="M161 642 L-22 220 L173 182 L367 230 L521 355 L609 534 L614 721 Z"/><path fill="#dedede" d="M161 642 L-11 215 L185 182 L377 235 L529 365 L611 546 L614 721 Z"/><path fill="#e2e2e2" d="M161 642 L0 211 L197 183 L388 241 L536 374 L614 558 L614 721 Z"/><path fill="#e6e6e6" d="M161 642 L12 207 L209 184 L398 247 L543 384 L616 570 L614 721 Z"/><path fill="#eaeaea" d="M161 642 L23 203 L221 185 L409 254 L549 394 L617 581 L614 721 Z"/><path fill="#ededed" d="M161 642 L35 199 L233 187 L419 260 L556 405 L619 593 L614 721 Z"/><path fill="#f1f1f1" d="M161 642 L46 196 L245 189 L429 267 L562 415 L620 605 L614 721 Z"/><path fill="#f4f4f4" d="M161 642 L58 193 L257 192 L438 274 L568 426 L621 617 L614 721 Z"/><path fill="#f6f6f6" d="M161 642 L70 191 L269 194 L448 282 L573 436 L621 629 L614 721 Z"/><path fill="#f8f8f8" d="M161 642 L82 188 L280 197 L457 289 L578 447 L621 642 L614 721 Z"/><path fill="#fafafa" d="M161 642 L93 187 L292 200 L466 297 L583 458 L621 654 L614 721 Z"/><path fill="#fcfcfc" d="M161 642 L105 185 L304 204 L475 305 L588 469 L621 666 L614 721 Z"/><path fill="#fdfdfd" d="M161 642 L117 184 L315 208 L484 313 L592 480 L620 678 L614 721 Z"/><path fill="#fefefe" d="M161 642 L129 183 L326 212 L492 322 L596 492 L619 690 L614 721 Z"/><path fill="#ffffff" d="M161 642 L141 182 L337 217 L501 331 L600 503 L617 702 L614 721 Z"/><path fill="#fefefe" d="M161 642 L177 182 L370 232 L524 358 L610 538 L614 721 Z"/><path fill="#fcfcfc" d="M161 642 L201 183 L391 243 L538 378 L614 562 L614 721 Z"/><path fill="#fbfbfb" d="M161 642 L213 184 L402 249 L545 388 L616 574 L614 721 Z"/><path fill="#f9f9f9" d="M161 642 L225 186 L412 256 L552 398 L618 585 L614 721 Z"/><path fill="#f7f7f7" d="M161 642 L237 188 L422 262 L558 408 L619 597 L614 721 Z"/><path fill="#f4f4f4" d="M161 642 L249 190 L432 269 L564 418 L620 609 L614 721 Z"/><path fill="#f2f2f2" d="M161 642 L261 192 L441 277 L569 429 L621 621 L614 721 Z"/><path fill="#eeeeee" d="M161 642 L273 195 L451 284 L575 440 L621 633 L614 721 Z"/><path fill="#ebebeb" d="M161 642 L284 198 L460 292 L580 451 L621 646 L614 721 Z"/><path fill="#e7e7e7" d="M161 642 L296 202 L469 300 L585 462 L621 658 L614 721 Z"/><path fill="#e3e3e3" d="M161 642 L307 205 L478 308 L589 473 L621 670 L614 721 Z"/><path fill="#dfdfdf" d="M161 642 L319 209 L487 316 L594 484 L620 682 L614 721 Z"/><path fill="#dadada" d="M161 642 L330 214 L495 325 L598 496 L618 694 L614 721 Z"/><path fill="#d6d6d6" d="M161 642 L341 218 L503 334 L601 507 L617 706 L614 721 Z"/><path fill="#d1d1d1" d="M161 642 L352 223 L511 343 L605 519 L615 717 L614 721 Z"/><path fill="#cbcbcb" d="M161 642 L363 228 L519 352 L608 530 L614 721 Z"/><path fill="#c6c6c6" d="M161 642 L374 233 L526 361 L610 542 L614 721 Z"/><path fill="#c0c0c0" d="M161 642 L384 239 L534 371 L613 554 L614 721 Z"/><path fill="#bababa" d="M161 642 L395 245 L540 381 L615 566 L614 721 Z"/><path fill="#b4b4b4" d="M161 642 L405 251 L547 391 L617 577 L614 721 Z"/><path fill="#aeaeae" d="M161 642 L415 258 L554 401 L618 589 L614 721 Z"/><path fill="#a8a8a8" d="M161 642 L425 265 L560 411 L620 601 L614 721 Z"/><path fill="#a2a2a2" d="M161 642 L435 272 L566 422 L621 613 L614 721 Z"/><path fill="#9b9b9b" d="M161 642 L445 279 L571 433 L621 625 L614 721 Z"/><path fill="#959595" d="M161 642 L454 287 L577 443 L621 637 L614 721 Z"/><path fill="#8e8e8e" d="M161 642 L463 294 L582 454 L621 650 L614 721 Z"/><path fill="#878787" d="M161 642 L472 302 L586 465 L621 662 L614 721 Z"/><path fill="#818181" d="M161 642 L481 311 L591 477 L620 674 L614 721 Z"/><path fill="#7a7a7a" d="M161 642 L489 319 L595 488 L619 686 L614 721 Z"/><path fill="#737373" d="M161 642 L498 328 L599 499 L618 698 L614 721 Z"/><path fill="#6d6d6d" d="M161 642 L506 337 L602 511 L616 709 L614 721 Z"/><path fill="#666666" d="M161 642 L514 346 L606 522 L614 721 Z"/><path fill="#606060" d="M161 642 L521 355 L609 534 L614 721 Z"/><path fill="#595959" d="M161 642 L529 365 L611 546 L614 721 Z"/><path fill="#535353" d="M161 642 L536 374 L614 558 L614 721 Z"/><path fill="#4d4d4d" d="M161 642 L543 384 L616 570 L614 721 Z"/><path fill="#474747" d="M161 642 L549 394 L617 581 L614 721 Z"/><path fill="#414141" d="M161 642 L556 405 L619 593 L614 721 Z"/><path fill="#3b3b3b" d="M161 642 L562 415 L620 605 L614 721 Z"/><path fill="#353535" d="M161 642 L568 426 L621 617 L614 721 Z"/><path fill="#303030" d="M161 642 L573 436 L621 629 L614 721 Z"/><path fill="#2b2b2b" d="M161 642 L578 447 L621 642 L614 721 Z"/><path fill="#262626" d="M161 642 L583 458 L621 654 L614 721 Z"/><path fill="#212121" d="M161 642 L588 469 L621 666 L614 721 Z"/><path fill="#1d1d1d" d="M161 642 L592 480 L620 678 L614 721 Z"/><path fill="#191919" d="M161 642 L596 492 L619 690 L614 721 Z"/><path fill="#151515" d="M161 642 L600 503 L617 702 L614 721 Z"/><path fill="#121212" d="M161 642 L604 515 L616 713 L614 721 Z"/><path fill="#0e0e0e" d="M161 642 L607 526 L614 721 Z"/><path fill="#0b0b0b" d="M161 642 L610 538 L614 721 Z"/><path fill="#090909" d="M161 642 L612 550 L614 721 Z"/><path fill="#070707" d="M161 642 L614 562 L614 721 Z"/><path fill="#050505" d="M161 642 L616 574 L614 721 Z"/><path fill="#030303" d="M161 642 L618 585 L614 721 Z"/><path fill="#020202" d="M161 642 L619 597 L614 721 Z"/><path fill="#010101" d="M161 642 L620 609 L614 721 Z"/><path fill="#000000" d="M161 642 L621 621 L614 721 Z"/></g></mask>
<radialGradient id="Lb0" gradientUnits="userSpaceOnUse" cx="0" cy="0" r="1" gradientTransform="translate(163.5 641.5) scale(49.00 56.84)"><stop offset="0.4694" stop-color="#262626" stop-opacity="0"/><stop offset="0.5612" stop-color="#454545"/><stop offset="0.6429" stop-color="#616161"/><stop offset="0.7041" stop-color="#6e6e6e"/><stop offset="0.7653" stop-color="#616161"/><stop offset="0.8469" stop-color="#474747" stop-opacity="0.8"/><stop offset="1.0000" stop-color="#383838" stop-opacity="0"/></radialGradient>
<filter id="blLMb0" filterUnits="userSpaceOnUse" x="84.7" y="562.7" width="157.7" height="157.7" color-interpolation-filters="sRGB"><feGaussianBlur stdDeviation="1.2"/></filter>
<mask id="LMb0" maskUnits="userSpaceOnUse" x="104.7" y="582.7" width="117.7" height="117.7"><g filter="url(#blLMb0)"><rect x="74.7" y="552.7" width="177.7" height="177.7" fill="#ffffff"/><path fill="#ffffff" d="M164 642 L71 658 L73 617 L91 581 L124 556 L164 547 L203 556 L236 581 L254 617 L256 658 Z"/><path fill="#f7f7f7" d="M164 642 L189 551 L225 570 L250 603 L258 643 L256 658 Z"/><path fill="#efefef" d="M164 642 L193 552 L228 573 L251 606 L258 646 L256 658 Z"/><path fill="#e7e7e7" d="M164 642 L196 553 L230 575 L252 609 L257 650 L256 658 Z"/><path fill="#dfdfdf" d="M164 642 L199 554 L232 577 L253 612 L257 653 L256 658 Z"/><path fill="#d8d8d8" d="M164 642 L202 555 L235 580 L254 616 L256 656 L256 658 Z"/><path fill="#d0d0d0" d="M164 642 L205 557 L237 582 L255 619 L256 658 Z"/><path fill="#c8c8c8" d="M164 642 L208 558 L239 585 L256 622 L256 658 Z"/><path fill="#c0c0c0" d="M164 642 L211 560 L241 588 L256 625 L256 658 Z"/><path fill="#b8b8b8" d="M164 642 L213 562 L242 590 L257 628 L256 658 Z"/><path fill="#b0b0b0" d="M164 642 L216 563 L244 593 L257 632 L256 658 Z"/><path fill="#a8a8a8" d="M164 642 L219 565 L246 596 L257 635 L256 658 Z"/><path fill="#a0a0a0" d="M164 642 L221 567 L247 599 L258 638 L256 658 Z"/><path fill="#999999" d="M164 642 L224 569 L249 602 L258 642 L256 658 Z"/><path fill="#919191" d="M164 642 L226 572 L250 605 L258 645 L256 658 Z"/><path fill="#898989" d="M164 642 L229 574 L251 608 L257 648 L256 658 Z"/><path fill="#818181" d="M164 642 L231 576 L253 611 L257 651 L256 658 Z"/><path fill="#797979" d="M164 642 L233 579 L254 614 L257 655 L256 658 Z"/><path fill="#717171" d="M164 642 L236 581 L254 617 L256 658 Z"/><path fill="#696969" d="M164 642 L238 584 L255 620 L256 658 Z"/><path fill="#616161" d="M164 642 L240 586 L256 624 L256 658 Z"/><path fill="#595959" d="M164 642 L242 589 L256 627 L256 658 Z"/><path fill="#525252" d="M164 642 L243 592 L257 630 L256 658 Z"/><path fill="#4a4a4a" d="M164 642 L245 594 L257 633 L256 658 Z"/><path fill="#424242" d="M164 642 L247 597 L258 637 L256 658 Z"/><path fill="#3a3a3a" d="M164 642 L248 600 L258 640 L256 658 Z"/><path fill="#323232" d="M164 642 L250 603 L258 643 L256 658 Z"/><path fill="#2a2a2a" d="M164 642 L251 606 L258 646 L256 658 Z"/><path fill="#262626" d="M164 642 L252 609 L257 650 L256 658 Z"/></g></mask>
<radialGradient id="Lb1" gradientUnits="userSpaceOnUse" cx="0" cy="0" r="1" gradientTransform="translate(167.3 644.6) scale(37.50 37.50)"><stop offset="0.0000" stop-color="#080808"/><stop offset="0.6933" stop-color="#0d0d0d"/><stop offset="0.8267" stop-color="#161616"/><stop offset="0.9067" stop-color="#1f1f1f" stop-opacity="0.7"/><stop offset="1.0000" stop-color="#333333" stop-opacity="0"/></radialGradient>
<filter id="Lb2" filterUnits="userSpaceOnUse" x="141" y="582" width="44" height="49" color-interpolation-filters="sRGB"><feGaussianBlur stdDeviation="2.3"/></filter>
<filter id="Lb2c" filterUnits="userSpaceOnUse" x="141" y="582" width="44" height="49" color-interpolation-filters="sRGB"><feGaussianBlur stdDeviation="0.7"/></filter>
<radialGradient id="Lb3" gradientUnits="userSpaceOnUse" cx="0" cy="0" r="1" gradientTransform="translate(164.9 641.5) scale(18.80 18.80)"><stop offset="0.0000" stop-color="#000000"/><stop offset="0.7979" stop-color="#000000"/><stop offset="0.8511" stop-color="#333333"/><stop offset="0.9468" stop-color="#333333"/><stop offset="1.0000" stop-color="#0d0d0d" stop-opacity="0"/></radialGradient>
<linearGradient id="Hb0" gradientUnits="userSpaceOnUse" x1="88" y1="0" x2="137" y2="0"><stop offset="0" stop-color="#333333" stop-opacity="0.3"/><stop offset="0.5" stop-color="#4c4c4c" stop-opacity="1"/><stop offset="0.8" stop-color="#808080" stop-opacity="1"/><stop offset="1" stop-color="#4c4c4c" stop-opacity="0"/></linearGradient>
<linearGradient id="Hb1" gradientUnits="userSpaceOnUse" x1="205" y1="0" x2="300" y2="0"><stop offset="0" stop-color="#333333" stop-opacity="0"/><stop offset="0.1" stop-color="#383838" stop-opacity="0.8"/><stop offset="1" stop-color="#333333" stop-opacity="0"/></linearGradient>
<clipPath id="clipd"><rect x="555" y="366.5" width="365.70000000000005" height="272.20000000000005"/></clipPath>
<radialGradient id="Ad" gradientUnits="userSpaceOnUse" cx="0" cy="0" r="1" gradientTransform="translate(625.3 641.5) scale(416.00 386.00)"><stop offset="0.0000" stop-color="#0d0d0d"/><stop offset="0.1250" stop-color="#333333"/><stop offset="0.1625" stop-color="#333333"/><stop offset="0.2125" stop-color="#2f2f2f"/><stop offset="0.2750" stop-color="#252525"/><stop offset="0.3375" stop-color="#262626"/><stop offset="0.4000" stop-color="#3b3b3b"/><stop offset="0.4750" stop-color="#666666"/><stop offset="0.5375" stop-color="#7d7d7d"/><stop offset="0.5950" stop-color="#666666"/><stop offset="0.6600" stop-color="#424242"/><stop offset="0.7550" stop-color="#262626"/><stop offset="1.0000" stop-color="#1c1c1c"/></radialGradient>
<radialGradient id="Bd" gradientUnits="userSpaceOnUse" cx="0" cy="0" r="1" gradientTransform="translate(625.3 641.5) scale(416.00 386.00)"><stop offset="0.0000" stop-color="#0d0d0d"/><stop offset="0.1375" stop-color="#3d3d3d"/><stop offset="0.1750" stop-color="#333333"/><stop offset="0.2250" stop-color="#2f2f2f"/><stop offset="0.2875" stop-color="#2a2a2a"/><stop offset="0.3500" stop-color="#303030"/><stop offset="0.4150" stop-color="#4c4c4c"/><stop offset="0.4800" stop-color="#757575"/><stop offset="0.5400" stop-color="#909090"/><stop offset="0.6025" stop-color="#7a7a7a"/><stop offset="0.6675" stop-color="#4c4c4c"/><stop offset="0.7625" stop-color="#292929"/><stop offset="1.0000" stop-color="#1c1c1c"/></radialGradient>
<filter id="blMd" filterUnits="userSpaceOnUse" x="533.0" y="344.5" width="409.7" height="316.2" color-interpolation-filters="sRGB"><feGaussianBlur stdDeviation="3.5"/></filter>
<mask id="Md" maskUnits="userSpaceOnUse" x="553.0" y="364.5" width="369.7" height="276.2"><g filter="url(#blMd)"><rect x="523.0" y="334.5" width="429.7" height="336.2" fill="#000000"/><path fill="#000000" d="M625 642 L172 721 L181 522 L273 346 L431 225 L625 182 L820 225 L978 346 L1070 522 L1078 721 Z"/><path fill="#010101" d="M625 642 L166 625 L215 433 L342 279 L522 193 L721 192 L902 274 L1031 426 L1085 617 L1078 721 Z"/><path fill="#030303" d="M625 642 L167 601 L227 411 L361 265 L545 188 L744 197 L921 289 L1042 447 L1085 642 L1078 721 Z"/><path fill="#040404" d="M625 642 L168 589 L233 401 L371 258 L557 187 L756 200 L930 297 L1047 458 L1085 654 L1078 721 Z"/><path fill="#060606" d="M625 642 L170 577 L240 391 L382 251 L569 185 L767 204 L939 305 L1052 469 L1085 666 L1078 721 Z"/><path fill="#080808" d="M625 642 L172 566 L246 381 L392 245 L581 184 L779 208 L948 313 L1056 480 L1084 678 L1078 721 Z"/><path fill="#0b0b0b" d="M625 642 L174 554 L253 371 L402 239 L593 183 L790 212 L956 322 L1060 492 L1083 690 L1078 721 Z"/><path fill="#0d0d0d" d="M625 642 L176 542 L260 361 L413 233 L605 182 L801 217 L964 331 L1064 503 L1081 702 L1078 721 Z"/><path fill="#111111" d="M625 642 L179 530 L268 352 L424 228 L617 182 L812 221 L972 340 L1067 515 L1080 713 L1078 721 Z"/><path fill="#141414" d="M625 642 L182 519 L276 343 L435 223 L629 182 L823 226 L980 349 L1071 526 L1078 721 Z"/><path fill="#181818" d="M625 642 L185 507 L283 334 L446 218 L641 182 L834 232 L988 358 L1074 538 L1078 721 Z"/><path fill="#1c1c1c" d="M625 642 L189 496 L292 325 L457 214 L653 182 L845 237 L995 368 L1076 550 L1078 721 Z"/><path fill="#202020" d="M625 642 L193 484 L300 316 L468 209 L665 183 L855 243 L1002 378 L1078 562 L1078 721 Z"/><path fill="#252525" d="M625 642 L197 473 L309 308 L479 205 L677 184 L866 249 L1009 388 L1080 574 L1078 721 Z"/><path fill="#292929" d="M625 642 L202 462 L317 300 L491 202 L689 186 L876 256 L1015 398 L1082 585 L1078 721 Z"/><path fill="#2e2e2e" d="M625 642 L207 451 L327 292 L502 198 L701 188 L886 262 L1022 408 L1083 597 L1078 721 Z"/><path fill="#343434" d="M625 642 L212 440 L336 284 L514 195 L713 190 L896 269 L1028 418 L1084 609 L1078 721 Z"/><path fill="#393939" d="M625 642 L217 429 L345 277 L526 192 L725 192 L905 277 L1033 429 L1085 621 L1078 721 Z"/><path fill="#3f3f3f" d="M625 642 L223 418 L355 269 L538 190 L737 195 L915 284 L1039 440 L1085 633 L1078 721 Z"/><path fill="#454545" d="M625 642 L229 408 L365 262 L549 188 L748 198 L924 292 L1044 451 L1085 646 L1078 721 Z"/><path fill="#4b4b4b" d="M625 642 L235 398 L375 256 L561 186 L760 202 L933 300 L1049 462 L1085 658 L1078 721 Z"/><path fill="#515151" d="M625 642 L242 388 L385 249 L573 184 L771 205 L942 308 L1053 473 L1084 670 L1078 721 Z"/><path fill="#575757" d="M625 642 L248 378 L395 243 L585 183 L783 209 L951 316 L1058 484 L1084 682 L1078 721 Z"/><path fill="#5d5d5d" d="M625 642 L256 368 L406 237 L597 182 L794 214 L959 325 L1062 496 L1082 694 L1078 721 Z"/><path fill="#646464" d="M625 642 L263 358 L416 232 L609 182 L805 218 L967 334 L1065 507 L1081 706 L1078 721 Z"/><path fill="#6a6a6a" d="M625 642 L270 349 L427 226 L621 182 L816 223 L975 343 L1069 519 L1079 717 L1078 721 Z"/><path fill="#717171" d="M625 642 L278 340 L438 221 L633 182 L827 228 L983 352 L1072 530 L1078 721 Z"/><path fill="#787878" d="M625 642 L286 331 L449 217 L645 182 L838 233 L990 361 L1074 542 L1078 721 Z"/><path fill="#7e7e7e" d="M625 642 L294 322 L460 212 L657 183 L848 239 L997 371 L1077 554 L1078 721 Z"/><path fill="#858585" d="M625 642 L303 313 L472 208 L669 184 L859 245 L1004 381 L1079 566 L1078 721 Z"/><path fill="#8c8c8c" d="M625 642 L312 305 L483 204 L681 185 L869 251 L1011 391 L1081 577 L1078 721 Z"/><path fill="#929292" d="M625 642 L320 297 L495 200 L693 187 L879 258 L1018 401 L1082 589 L1078 721 Z"/><path fill="#999999" d="M625 642 L330 289 L506 197 L705 188 L889 265 L1024 411 L1084 601 L1078 721 Z"/><path fill="#9f9f9f" d="M625 642 L339 282 L518 194 L717 191 L899 272 L1030 422 L1084 613 L1078 721 Z"/><path fill="#a6a6a6" d="M625 642 L348 274 L530 192 L729 193 L909 279 L1035 433 L1085 625 L1078 721 Z"/><path fill="#acacac" d="M625 642 L358 267 L541 189 L740 196 L918 287 L1040 443 L1085 637 L1078 721 Z"/><path fill="#b2b2b2" d="M625 642 L368 260 L553 187 L752 199 L927 294 L1046 454 L1085 650 L1078 721 Z"/><path fill="#b8b8b8" d="M625 642 L378 254 L565 185 L764 203 L936 302 L1050 465 L1085 662 L1078 721 Z"/><path fill="#bebebe" d="M625 642 L388 247 L577 184 L775 207 L945 311 L1055 477 L1084 674 L1078 721 Z"/><path fill="#c4c4c4" d="M625 642 L399 241 L589 183 L786 211 L953 319 L1059 488 L1083 686 L1078 721 Z"/><path fill="#cacaca" d="M625 642 L409 235 L601 182 L798 215 L962 328 L1063 499 L1082 698 L1078 721 Z"/><path fill="#cfcfcf" d="M625 642 L420 230 L613 182 L809 220 L970 337 L1066 511 L1080 709 L1078 721 Z"/><path fill="#d4d4d4" d="M625 642 L431 225 L625 182 L820 225 L978 346 L1070 522 L1078 721 Z"/><path fill="#d9d9d9" d="M625 642 L442 220 L637 182 L831 230 L985 355 L1073 534 L1078 721 Z"/><path fill="#dedede" d="M625 642 L453 215 L649 182 L841 235 L993 365 L1075 546 L1078 721 Z"/><path fill="#e2e2e2" d="M625 642 L464 211 L661 183 L852 241 L1000 374 L1078 558 L1078 721 Z"/><path fill="#e6e6e6" d="M625 642 L476 207 L673 184 L862 247 L1007 384 L1080 570 L1078 721 Z"/><path fill="#eaeaea" d="M625 642 L487 203 L685 185 L872 254 L1013 394 L1081 581 L1078 721 Z"/><path fill="#ededed" d="M625 642 L499 199 L697 187 L883 260 L1020 405 L1083 593 L1078 721 Z"/><path fill="#f1f1f1" d="M625 642 L510 196 L709 189 L892 267 L1026 415 L1084 605 L1078 721 Z"/><path fill="#f4f4f4" d="M625 642 L522 193 L721 192 L902 274 L1031 426 L1085 617 L1078 721 Z"/><path fill="#f6f6f6" d="M625 642 L534 191 L733 194 L912 282 L1037 436 L1085 629 L1078 721 Z"/><path fill="#f8f8f8" d="M625 642 L545 188 L744 197 L921 289 L1042 447 L1085 642 L1078 721 Z"/><path fill="#fafafa" d="M625 642 L557 187 L756 200 L930 297 L1047 458 L1085 654 L1078 721 Z"/><path fill="#fcfcfc" d="M625 642 L569 185 L767 204 L939 305 L1052 469 L1085 666 L1078 721 Z"/><path fill="#fdfdfd" d="M625 642 L581 184 L779 208 L948 313 L1056 480 L1084 678 L1078 721 Z"/><path fill="#fefefe" d="M625 642 L593 183 L790 212 L956 322 L1060 492 L1083 690 L1078 721 Z"/><path fill="#ffffff" d="M625 642 L605 182 L801 217 L964 331 L1064 503 L1081 702 L1078 721 Z"/><path fill="#fefefe" d="M625 642 L641 182 L834 232 L988 358 L1074 538 L1078 721 Z"/><path fill="#fcfcfc" d="M625 642 L665 183 L855 243 L1002 378 L1078 562 L1078 721 Z"/><path fill="#fbfbfb" d="M625 642 L677 184 L866 249 L1009 388 L1080 574 L1078 721 Z"/><path fill="#f9f9f9" d="M625 642 L689 186 L876 256 L1015 398 L1082 585 L1078 721 Z"/><path fill="#f7f7f7" d="M625 642 L701 188 L886 262 L1022 408 L1083 597 L1078 721 Z"/><path fill="#f4f4f4" d="M625 642 L713 190 L896 269 L1028 418 L1084 609 L1078 721 Z"/><path fill="#f2f2f2" d="M625 642 L725 192 L905 277 L1033 429 L1085 621 L1078 721 Z"/><path fill="#eeeeee" d="M625 642 L737 195 L915 284 L1039 440 L1085 633 L1078 721 Z"/><path fill="#ebebeb" d="M625 642 L748 198 L924 292 L1044 451 L1085 646 L1078 721 Z"/><path fill="#e7e7e7" d="M625 642 L760 202 L933 300 L1049 462 L1085 658 L1078 721 Z"/><path fill="#e3e3e3" d="M625 642 L771 205 L942 308 L1053 473 L1084 670 L1078 721 Z"/><path fill="#dfdfdf" d="M625 642 L783 209 L951 316 L1058 484 L1084 682 L1078 721 Z"/><path fill="#dadada" d="M625 642 L794 214 L959 325 L1062 496 L1082 694 L1078 721 Z"/><path fill="#d6d6d6" d="M625 642 L805 218 L967 334 L1065 507 L1081 706 L1078 721 Z"/><path fill="#d1d1d1" d="M625 642 L816 223 L975 343 L1069 519 L1079 717 L1078 721 Z"/><path fill="#cbcbcb" d="M625 642 L827 228 L983 352 L1072 530 L1078 721 Z"/><path fill="#c6c6c6" d="M625 642 L838 233 L990 361 L1074 542 L1078 721 Z"/><path fill="#c0c0c0" d="M625 642 L848 239 L997 371 L1077 554 L1078 721 Z"/><path fill="#bababa" d="M625 642 L859 245 L1004 381 L1079 566 L1078 721 Z"/><path fill="#b4b4b4" d="M625 642 L869 251 L1011 391 L1081 577 L1078 721 Z"/><path fill="#aeaeae" d="M625 642 L879 258 L1018 401 L1082 589 L1078 721 Z"/><path fill="#a8a8a8" d="M625 642 L889 265 L1024 411 L1084 601 L1078 721 Z"/><path fill="#a2a2a2" d="M625 642 L899 272 L1030 422 L1084 613 L1078 721 Z"/><path fill="#9b9b9b" d="M625 642 L909 279 L1035 433 L1085 625 L1078 721 Z"/><path fill="#959595" d="M625 642 L918 287 L1040 443 L1085 637 L1078 721 Z"/><path fill="#8e8e8e" d="M625 642 L927 294 L1046 454 L1085 650 L1078 721 Z"/><path fill="#878787" d="M625 642 L936 302 L1050 465 L1085 662 L1078 721 Z"/><path fill="#818181" d="M625 642 L945 311 L1055 477 L1084 674 L1078 721 Z"/><path fill="#7a7a7a" d="M625 642 L953 319 L1059 488 L1083 686 L1078 721 Z"/><path fill="#737373" d="M625 642 L962 328 L1063 499 L1082 698 L1078 721 Z"/><path fill="#6d6d6d" d="M625 642 L970 337 L1066 511 L1080 709 L1078 721 Z"/><path fill="#666666" d="M625 642 L978 346 L1070 522 L1078 721 Z"/><path fill="#606060" d="M625 642 L985 355 L1073 534 L1078 721 Z"/><path fill="#595959" d="M625 642 L993 365 L1075 546 L1078 721 Z"/><path fill="#535353" d="M625 642 L1000 374 L1078 558 L1078 721 Z"/><path fill="#4d4d4d" d="M625 642 L1007 384 L1080 570 L1078 721 Z"/><path fill="#474747" d="M625 642 L1013 394 L1081 581 L1078 721 Z"/><path fill="#414141" d="M625 642 L1020 405 L1083 593 L1078 721 Z"/><path fill="#3b3b3b" d="M625 642 L1026 415 L1084 605 L1078 721 Z"/><path fill="#353535" d="M625 642 L1031 426 L1085 617 L1078 721 Z"/><path fill="#303030" d="M625 642 L1037 436 L1085 629 L1078 721 Z"/><path fill="#2b2b2b" d="M625 642 L1042 447 L1085 642 L1078 721 Z"/><path fill="#262626" d="M625 642 L1047 458 L1085 654 L1078 721 Z"/><path fill="#212121" d="M625 642 L1052 469 L1085 666 L1078 721 Z"/><path fill="#1d1d1d" d="M625 642 L1056 480 L1084 678 L1078 721 Z"/><path fill="#191919" d="M625 642 L1060 492 L1083 690 L1078 721 Z"/><path fill="#151515" d="M625 642 L1064 503 L1081 702 L1078 721 Z"/><path fill="#121212" d="M625 642 L1067 515 L1080 713 L1078 721 Z"/><path fill="#0e0e0e" d="M625 642 L1071 526 L1078 721 Z"/><path fill="#0b0b0b" d="M625 642 L1074 538 L1078 721 Z"/><path fill="#090909" d="M625 642 L1076 550 L1078 721 Z"/><path fill="#070707" d="M625 642 L1078 562 L1078 721 Z"/><path fill="#050505" d="M625 642 L1080 574 L1078 721 Z"/><path fill="#030303" d="M625 642 L1082 585 L1078 721 Z"/><path fill="#020202" d="M625 642 L1083 597 L1078 721 Z"/><path fill="#010101" d="M625 642 L1084 609 L1078 721 Z"/><path fill="#000000" d="M625 642 L1085 621 L1078 721 Z"/></g></mask>
<radialGradient id="Ld0" gradientUnits="userSpaceOnUse" cx="0" cy="0" r="1" gradientTransform="translate(628.5 641.5) scale(40.00 46.12)"><stop offset="0.0000" stop-color="#202020"/><stop offset="0.8500" stop-color="#212121"/><stop offset="0.9500" stop-color="#262626" stop-opacity="0.8"/><stop offset="1.0000" stop-color="#333333" stop-opacity="0"/></radialGradient>
<radialGradient id="Ld1" gradientUnits="userSpaceOnUse" cx="0" cy="0" r="1" gradientTransform="translate(628.5 641.5) scale(56.00 64.57)"><stop offset="0.5982" stop-color="#1f1f1f" stop-opacity="0"/><stop offset="0.6607" stop-color="#454545"/><stop offset="0.7357" stop-color="#7a7a7a"/><stop offset="0.8036" stop-color="#545454"/><stop offset="0.8750" stop-color="#404040" stop-opacity="0.7"/><stop offset="1.0000" stop-color="#333333" stop-opacity="0"/></radialGradient>
<filter id="blLMd1" filterUnits="userSpaceOnUse" x="541.9" y="554.9" width="173.1" height="173.1" color-interpolation-filters="sRGB"><feGaussianBlur stdDeviation="1.2"/></filter>
<mask id="LMd1" maskUnits="userSpaceOnUse" x="561.9" y="574.9" width="133.1" height="133.1"><g filter="url(#blLMd1)"><rect x="531.9" y="544.9" width="193.1" height="193.1" fill="#ffffff"/><path fill="#ffffff" d="M628 642 L524 660 L526 614 L547 573 L583 545 L628 535 L674 545 L710 573 L731 614 L733 660 Z"/><path fill="#fefefe" d="M628 642 L647 537 L690 554 L721 588 L735 632 L733 660 Z"/><path fill="#fcfcfc" d="M628 642 L651 537 L693 556 L723 591 L735 636 L733 660 Z"/><path fill="#fafafa" d="M628 642 L654 538 L696 559 L724 595 L735 640 L733 660 Z"/><path fill="#f8f8f8" d="M628 642 L658 539 L698 561 L726 598 L735 643 L733 660 Z"/><path fill="#f6f6f6" d="M628 642 L661 540 L701 564 L727 602 L735 647 L733 660 Z"/><path fill="#f4f4f4" d="M628 642 L665 541 L704 566 L729 605 L735 651 L733 660 Z"/><path fill="#f2f2f2" d="M628 642 L668 543 L706 569 L730 609 L734 654 L733 660 Z"/><path fill="#f0f0f0" d="M628 642 L672 544 L709 572 L731 612 L734 658 L733 660 Z"/><path fill="#eeeeee" d="M628 642 L675 546 L711 574 L732 616 L733 660 Z"/><path fill="#ececec" d="M628 642 L679 547 L714 577 L733 619 L733 660 Z"/><path fill="#eaeaea" d="M628 642 L682 549 L716 580 L733 623 L733 660 Z"/><path fill="#e8e8e8" d="M628 642 L685 551 L718 583 L734 627 L733 660 Z"/><path fill="#e6e6e6" d="M628 642 L688 553 L720 587 L734 630 L733 660 Z"/><path fill="#e3e3e3" d="M628 642 L691 555 L722 590 L735 634 L733 660 Z"/><path fill="#e1e1e1" d="M628 642 L694 558 L723 593 L735 638 L733 660 Z"/><path fill="#dfdfdf" d="M628 642 L697 560 L725 596 L735 642 L733 660 Z"/><path fill="#dddddd" d="M628 642 L700 562 L727 600 L735 645 L733 660 Z"/><path fill="#dbdbdb" d="M628 642 L702 565 L728 603 L735 649 L733 660 Z"/><path fill="#d9d9d9" d="M628 642 L705 568 L729 607 L734 653 L733 660 Z"/><path fill="#d7d7d7" d="M628 642 L708 570 L730 610 L734 656 L733 660 Z"/><path fill="#d5d5d5" d="M628 642 L710 573 L731 614 L733 660 Z"/><path fill="#d3d3d3" d="M628 642 L712 576 L732 618 L733 660 Z"/><path fill="#d1d1d1" d="M628 642 L715 579 L733 621 L733 660 Z"/><path fill="#cfcfcf" d="M628 642 L717 582 L734 625 L733 660 Z"/><path fill="#cdcdcd" d="M628 642 L719 585 L734 629 L733 660 Z"/><path fill="#cccccc" d="M628 642 L721 588 L735 632 L733 660 Z"/></g></mask>
<radialGradient id="Ld2" gradientUnits="userSpaceOnUse" cx="0" cy="0" r="1" gradientTransform="translate(638.4 637) scale(34.00 34.00)"><stop offset="0.0000" stop-color="#080808"/><stop offset="0.6765" stop-color="#0d0d0d"/><stop offset="0.8235" stop-color="#161616"/><stop offset="0.9118" stop-color="#1f1f1f" stop-opacity="0.7"/><stop offset="1.0000" stop-color="#212121" stop-opacity="0"/></radialGradient>
<filter id="Ld3" filterUnits="userSpaceOnUse" x="609" y="578" width="40" height="52" color-interpolation-filters="sRGB"><feGaussianBlur stdDeviation="2.2"/></filter>
<filter id="Ld3c" filterUnits="userSpaceOnUse" x="609" y="578" width="40" height="52" color-interpolation-filters="sRGB"><feGaussianBlur stdDeviation="0.7"/></filter>
<radialGradient id="Ld4" gradientUnits="userSpaceOnUse" cx="0" cy="0" r="1" gradientTransform="translate(628.8 638.8) scale(18.50 18.50)"><stop offset="0.0000" stop-color="#000000"/><stop offset="0.7838" stop-color="#000000"/><stop offset="0.8378" stop-color="#333333"/><stop offset="0.9459" stop-color="#333333"/><stop offset="1.0000" stop-color="#0d0d0d" stop-opacity="0"/></radialGradient>
<linearGradient id="Hd0" gradientUnits="userSpaceOnUse" x1="556" y1="0" x2="608" y2="0"><stop offset="0" stop-color="#333333" stop-opacity="0.3"/><stop offset="0.5" stop-color="#4c4c4c" stop-opacity="1"/><stop offset="0.72" stop-color="#b2b2b2" stop-opacity="1"/><stop offset="0.8" stop-color="#4c4c4c" stop-opacity="1"/><stop offset="1" stop-color="#333333" stop-opacity="0"/></linearGradient>
<linearGradient id="Hd1" gradientUnits="userSpaceOnUse" x1="669" y1="0" x2="760" y2="0"><stop offset="0" stop-color="#4c4c4c" stop-opacity="0"/><stop offset="0.04" stop-color="#6b6b6b" stop-opacity="1"/><stop offset="0.4" stop-color="#545454" stop-opacity="1"/><stop offset="1" stop-color="#333333" stop-opacity="0"/></linearGradient>
<linearGradient id="Hd2" gradientUnits="userSpaceOnUse" x1="800" y1="0" x2="895" y2="0"><stop offset="0" stop-color="#4c4c4c" stop-opacity="0"/><stop offset="0.25" stop-color="#737373" stop-opacity="1"/><stop offset="0.5" stop-color="#9e9e9e" stop-opacity="1"/><stop offset="0.75" stop-color="#737373" stop-opacity="1"/><stop offset="1" stop-color="#4c4c4c" stop-opacity="0"/></linearGradient>
<clipPath id="clipq"><rect x="1100" y="600" width="200" height="45"/></clipPath>
</defs>
<g clip-path="url(#clipa)"><g filter="url(#jet)"><rect x="86.5" y="3" width="371.7" height="277.5" fill="url(#Aa)"/><g mask="url(#Ma)"><rect x="86.5" y="3" width="371.7" height="277.5" fill="url(#Ba)"/></g><g mask="url(#LMa0)"><rect x="108.4" y="228.0" width="106.0" height="106.0" fill="url(#La0)"/></g><rect x="136.2" y="248.0" width="69.0" height="69.0" fill="url(#La1)"/><path d="M143.2 244.9 C143.2 243.5 144.8 241.5 146.6 240.0 C148.4 238.5 150.9 237.5 153.4 236.7 C155.9 235.9 158.0 235.7 160.6 235.7 C163.2 235.7 165.5 236.1 167.8 236.7 C170.1 237.3 171.9 237.9 173.6 239.1 C175.3 240.3 177.0 242.1 177.0 243.4 C177.0 244.7 175.3 245.5 173.6 246.3 C171.9 247.1 169.5 247.1 167.8 247.8 C166.1 248.5 165.3 249.0 164.0 250.2 C162.7 251.4 161.8 254.5 160.6 254.5 C159.4 254.5 158.7 251.3 157.2 250.2 C155.7 249.1 154.3 248.6 152.4 248.2 C150.5 247.8 148.3 248.4 146.6 247.8 C144.9 247.2 143.2 246.3 143.2 244.9 Z" fill="#f6f6f6" stroke="#f6f6f6" stroke-width="1.2" stroke-linejoin="round" filter="url(#La2)"/><path d="M143.2 244.9 C143.2 243.5 144.8 241.5 146.6 240.0 C148.4 238.5 150.9 237.5 153.4 236.7 C155.9 235.9 158.0 235.7 160.6 235.7 C163.2 235.7 165.5 236.1 167.8 236.7 C170.1 237.3 171.9 237.9 173.6 239.1 C175.3 240.3 177.0 242.1 177.0 243.4 C177.0 244.7 175.3 245.5 173.6 246.3 C171.9 247.1 169.5 247.1 167.8 247.8 C166.1 248.5 165.3 249.0 164.0 250.2 C162.7 251.4 161.8 254.5 160.6 254.5 C159.4 254.5 158.7 251.3 157.2 250.2 C155.7 249.1 154.3 248.6 152.4 248.2 C150.5 247.8 148.3 248.4 146.6 247.8 C144.9 247.2 143.2 246.3 143.2 244.9 Z" fill="#f6f6f6" stroke="#f6f6f6" stroke-width="0.01" stroke-linejoin="round" filter="url(#La2c)"/><rect x="145.5" y="260.0" width="39.0" height="39.0" fill="url(#La3)"/><rect x="87.5" y="275.4" width="369.7" height="4.100000000000023" fill="#0d0d0d" fill-opacity="0.7"/><rect x="88" y="273.85" width="50" height="1.3" fill="url(#Ha0)"/><rect x="203" y="273.3" width="97" height="2" fill="url(#Ha1)"/><path d="M87 21.5 L264 25 L458 38.5 L458 45.5 L264 32.6 L87 29.5 Z" fill="#030303" fill-opacity="0.96"/><path d="M87 143.5 L320 147.3 L458 151.6 L458 160.6 L320 156.8 L87 152.5 Z" fill="#030303" fill-opacity="0.96"/><path d="M322.8 4 L324.8 4 L321.8 279.5 L319.8 279.5 Z" fill="#000000" fill-opacity="0.75"/></g><path d="M101.2 3.0 L104.6 11.3 L107.9 19.7 L111.1 28.0 L114.3 36.3 L117.3 44.7 L120.3 53.0 L123.2 61.3 L125.9 69.7 L128.6 78.0 L131.2 86.3 L133.7 94.7 L136.1 103.0 L138.4 111.3 L140.6 119.7 L142.7 128.0 L144.8 136.3 L146.7 144.7 L148.5 153.0 L150.2 161.3 L151.7 169.7 L153.2 178.0 L154.6 186.3 L155.8 194.7 L156.9 203.0 L157.9 211.3 L158.7 219.7 L159.4 228.0 L160.0 236.3 L160.5 244.7 L161.1 253.0 L161.1 253.0 L161.7 244.7 L162.2 236.3 L162.8 228.0 L163.5 219.7 L164.3 211.3 L165.3 203.0 L166.4 194.7 L167.6 186.3 L169.0 178.0 L170.5 169.7 L172.0 161.3 L173.7 153.0 L175.5 144.7 L177.4 136.3 L179.5 128.0 L181.6 119.7 L183.8 111.3 L186.1 103.0 L188.5 94.7 L191.0 86.3 L193.6 78.0 L196.3 69.7 L199.0 61.3 L201.9 53.0 L204.9 44.7 L207.9 36.3 L211.1 28.0 L214.3 19.7 L217.6 11.3 L221.0 3.0 Z" fill="#00008a"/></g>
<g clip-path="url(#clipc)"><g filter="url(#jet)"><rect x="552.5" y="5" width="370.20000000000005" height="275.5" fill="url(#Ac)"/><g mask="url(#Mc)"><rect x="552.5" y="5" width="370.20000000000005" height="275.5" fill="url(#Bc)"/></g><rect x="555.8" y="211.8" width="138.4" height="138.4" fill="url(#Lc0)"/><rect x="604.4" y="251.5" width="66.0" height="66.0" fill="url(#Lc1)"/><path d="M579.2 276.5 C577.6 275.1 579.7 270.9 580.2 268.0 C580.7 265.1 581.0 262.1 582.5 258.4 C584.0 254.7 586.7 248.5 589.3 244.9 C591.9 241.3 595.5 238.3 598.9 235.7 C602.3 233.1 607.1 230.3 610.5 228.5 C613.9 226.7 617.9 225.4 620.1 224.6 C622.3 223.8 622.9 223.5 624.4 223.5 C625.9 223.5 627.3 223.5 629.7 224.6 C632.1 225.7 636.2 228.2 639.4 230.4 C642.6 232.6 646.8 235.3 650.0 238.1 C653.2 240.9 657.1 244.6 659.6 247.8 C662.1 251.0 664.0 255.0 665.4 258.4 C666.8 261.8 667.7 266.1 668.3 269.0 C668.9 271.9 669.5 275.3 669.2 276.5 C668.9 277.7 667.2 277.5 666.6 276.5 C666.0 275.5 666.1 271.8 665.6 270.0 C665.1 268.2 664.5 267.3 663.4 265.1 C662.3 262.9 660.6 258.9 658.6 256.4 C656.6 253.9 653.7 251.4 650.9 249.7 C648.1 248.0 644.2 246.3 641.3 245.8 C638.4 245.3 634.6 246.0 632.6 246.8 C630.6 247.6 630.1 249.1 628.8 250.6 C627.5 252.1 625.6 255.7 624.4 255.9 C623.2 256.1 622.3 253.1 621.1 251.6 C619.9 250.1 618.9 247.6 617.2 246.8 C615.5 246.0 612.8 245.8 610.5 246.3 C608.2 246.8 605.1 248.1 602.8 249.7 C600.5 251.3 597.7 253.8 596.0 256.4 C594.3 259.0 593.1 262.9 592.2 266.1 C591.3 269.3 592.3 274.8 590.2 276.5 C588.1 278.2 580.8 277.9 579.2 276.5 Z" fill="#f6f6f6" stroke="#f6f6f6" stroke-width="1.0" stroke-linejoin="round" filter="url(#Lc2)"/><path d="M579.2 276.5 C577.6 275.1 579.7 270.9 580.2 268.0 C580.7 265.1 581.0 262.1 582.5 258.4 C584.0 254.7 586.7 248.5 589.3 244.9 C591.9 241.3 595.5 238.3 598.9 235.7 C602.3 233.1 607.1 230.3 610.5 228.5 C613.9 226.7 617.9 225.4 620.1 224.6 C622.3 223.8 622.9 223.5 624.4 223.5 C625.9 223.5 627.3 223.5 629.7 224.6 C632.1 225.7 636.2 228.2 639.4 230.4 C642.6 232.6 646.8 235.3 650.0 238.1 C653.2 240.9 657.1 244.6 659.6 247.8 C662.1 251.0 664.0 255.0 665.4 258.4 C666.8 261.8 667.7 266.1 668.3 269.0 C668.9 271.9 669.5 275.3 669.2 276.5 C668.9 277.7 667.2 277.5 666.6 276.5 C666.0 275.5 666.1 271.8 665.6 270.0 C665.1 268.2 664.5 267.3 663.4 265.1 C662.3 262.9 660.6 258.9 658.6 256.4 C656.6 253.9 653.7 251.4 650.9 249.7 C648.1 248.0 644.2 246.3 641.3 245.8 C638.4 245.3 634.6 246.0 632.6 246.8 C630.6 247.6 630.1 249.1 628.8 250.6 C627.5 252.1 625.6 255.7 624.4 255.9 C623.2 256.1 622.3 253.1 621.1 251.6 C619.9 250.1 618.9 247.6 617.2 246.8 C615.5 246.0 612.8 245.8 610.5 246.3 C608.2 246.8 605.1 248.1 602.8 249.7 C600.5 251.3 597.7 253.8 596.0 256.4 C594.3 259.0 593.1 262.9 592.2 266.1 C591.3 269.3 592.3 274.8 590.2 276.5 C588.1 278.2 580.8 277.9 579.2 276.5 Z" fill="#f6f6f6" stroke="#f6f6f6" stroke-width="0.01" stroke-linejoin="round" filter="url(#Lc2c)"/><rect x="606.2" y="259.8" width="40.4" height="40.4" fill="url(#Lc3)"/><rect x="553.5" y="276.2" width="368.20000000000005" height="3.3000000000000114" fill="#0d0d0d" fill-opacity="0.7"/><path d="M553 23.5 L735 25.2 L922 37 L922 45 L735 32.5 L553 30.5 Z" fill="#030303" fill-opacity="0.96"/><path d="M553 145 L786 147.5 L922 152.2 L922 161.39999999999998 L786 156.5 L553 153.6 Z" fill="#030303" fill-opacity="0.96"/><path d="M787.6 6 L789.6 6 L786.2 279.5 L784.2 279.5 Z" fill="#000000" fill-opacity="0.75"/></g><path d="M566.9 3.0 L570.2 11.4 L573.5 19.9 L576.7 28.3 L579.8 36.7 L582.8 45.2 L585.7 53.6 L588.5 62.0 L591.2 70.5 L593.9 78.9 L596.4 87.3 L598.8 95.8 L601.2 104.2 L603.4 112.6 L605.6 121.1 L607.7 129.5 L609.6 137.9 L611.5 146.4 L613.2 154.8 L614.8 163.2 L616.4 171.7 L617.8 180.1 L619.1 188.5 L620.2 197.0 L621.3 205.4 L622.2 213.8 L623.0 222.3 L623.6 230.7 L624.1 239.1 L624.6 247.6 L625.1 256.0 L625.1 256.0 L625.7 247.6 L626.4 239.1 L627.0 230.7 L627.8 222.3 L628.7 213.8 L629.7 205.4 L630.9 197.0 L632.2 188.5 L633.6 180.1 L635.2 171.7 L636.8 163.2 L638.6 154.8 L640.5 146.4 L642.5 137.9 L644.5 129.5 L646.7 121.1 L649.0 112.6 L651.4 104.2 L653.9 95.8 L656.5 87.3 L659.1 78.9 L661.9 70.5 L664.8 62.0 L667.7 53.6 L670.8 45.2 L673.9 36.7 L677.1 28.3 L680.4 19.9 L683.8 11.4 L687.3 3.0 Z" fill="#00008a"/></g>
<g clip-path="url(#clipb)"><g filter="url(#jet)"><rect x="85.8" y="364" width="374.7" height="276.70000000000005" fill="url(#Ab)"/><g mask="url(#Mb)"><rect x="85.8" y="364" width="374.7" height="276.70000000000005" fill="url(#Bb)"/></g><g mask="url(#LMb0)"><rect x="104.7" y="582.7" width="117.7" height="117.7" fill="url(#Lb0)"/></g><rect x="127.8" y="605.1" width="79.0" height="79.0" fill="url(#Lb1)"/><path d="M163.5 596.7 C161.6 596.7 159.5 597.8 158.2 599.1 C156.9 600.4 156.2 602.3 156.2 603.9 C156.2 605.5 156.9 606.0 158.2 608.2 C159.5 610.4 161.8 615.8 163.5 615.9 C165.2 616.0 166.5 610.9 167.8 608.7 C169.1 606.5 170.5 605.6 170.7 603.9 C170.9 602.2 170.1 600.4 168.8 599.1 C167.5 597.8 165.4 596.7 163.5 596.7 Z" fill="#f6f6f6" stroke="#f6f6f6" stroke-width="1.2" stroke-linejoin="round" filter="url(#Lb2)"/><path d="M163.5 596.7 C161.6 596.7 159.5 597.8 158.2 599.1 C156.9 600.4 156.2 602.3 156.2 603.9 C156.2 605.5 156.9 606.0 158.2 608.2 C159.5 610.4 161.8 615.8 163.5 615.9 C165.2 616.0 166.5 610.9 167.8 608.7 C169.1 606.5 170.5 605.6 170.7 603.9 C170.9 602.2 170.1 600.4 168.8 599.1 C167.5 597.8 165.4 596.7 163.5 596.7 Z" fill="#f6f6f6" stroke="#f6f6f6" stroke-width="0.01" stroke-linejoin="round" filter="url(#Lb2c)"/><rect x="144.1" y="620.7" width="41.6" height="41.6" fill="url(#Lb3)"/><rect x="86.8" y="636.5" width="372.7" height="3.2000000000000455" fill="#0d0d0d" fill-opacity="0.7"/><rect x="88" y="634.7" width="49" height="1.8" fill="url(#Hb0)"/><rect x="205" y="634.7" width="95" height="1.8" fill="url(#Hb1)"/><path d="M86 383 L270 385.6 L360 390.5 L460 399.2 L460 409.2 L360 399.0 L270 393.20000000000005 L86 391.5 Z" fill="#030303" fill-opacity="0.96"/><path d="M86 505 L321 505.3 L460 514.5 L460 521.9 L321 514.3 L86 513.6 Z" fill="#030303" fill-opacity="0.96"/><path d="M324.05 365 L326.34999999999997 365 L323.75 639.7 L321.45000000000005 639.7 Z" fill="#000000" fill-opacity="0.85"/></g><path d="M105.0 364.8 L108.2 372.6 L111.3 380.5 L114.3 388.3 L117.2 396.2 L120.1 404.0 L122.8 411.8 L125.5 419.7 L128.2 427.5 L130.7 435.4 L133.2 443.2 L135.5 451.0 L137.8 458.9 L140.0 466.7 L142.1 474.6 L144.2 482.4 L146.1 490.2 L148.0 498.1 L149.7 505.9 L151.4 513.8 L153.0 521.6 L154.5 529.4 L155.8 537.3 L157.1 545.1 L158.3 553.0 L159.3 560.8 L160.3 568.6 L161.1 576.5 L161.8 584.3 L162.4 592.2 L163.9 600.0 L163.9 600.0 L165.4 592.2 L166.1 584.3 L166.9 576.5 L167.8 568.6 L168.8 560.8 L169.9 553.0 L171.2 545.1 L172.5 537.3 L173.9 529.4 L175.5 521.6 L177.1 513.8 L178.9 505.9 L180.7 498.1 L182.6 490.2 L184.6 482.4 L186.7 474.6 L188.9 466.7 L191.2 458.9 L193.5 451.0 L196.0 443.2 L198.5 435.4 L201.1 427.5 L203.8 419.7 L206.6 411.8 L209.4 404.0 L212.3 396.2 L215.3 388.3 L218.4 380.5 L221.6 372.6 L224.8 364.8 Z" fill="#00008a"/></g>
<g clip-path="url(#clipd)"><g filter="url(#jet)"><rect x="553" y="364.5" width="369.70000000000005" height="276.20000000000005" fill="url(#Ad)"/><g mask="url(#Md)"><rect x="553" y="364.5" width="369.70000000000005" height="276.20000000000005" fill="url(#Bd)"/></g><rect x="580.4" y="593.4" width="96.2" height="96.2" fill="url(#Ld0)"/><g mask="url(#LMd1)"><rect x="561.9" y="574.9" width="133.1" height="133.1" fill="url(#Ld1)"/></g><rect x="602.4" y="601.0" width="72.0" height="72.0" fill="url(#Ld2)"/><path d="M628.8 592.8 C627.4 592.8 625.9 594.7 625.0 596.0 C624.1 597.3 624.0 598.2 624.0 600.0 C624.0 601.8 624.3 604.0 624.8 606.0 C625.2 608.0 625.9 609.5 626.5 611.0 C627.1 612.5 627.6 614.5 628.3 614.5 C629.0 614.5 629.4 612.5 630.2 611.0 C631.0 609.5 631.9 608.0 632.5 606.0 C633.1 604.0 633.6 601.8 633.6 600.0 C633.6 598.2 633.5 597.3 632.6 596.0 C631.7 594.7 630.2 592.8 628.8 592.8 Z" fill="#f6f6f6" stroke="#f6f6f6" stroke-width="1.2" stroke-linejoin="round" filter="url(#Ld3)"/><path d="M628.8 592.8 C627.4 592.8 625.9 594.7 625.0 596.0 C624.1 597.3 624.0 598.2 624.0 600.0 C624.0 601.8 624.3 604.0 624.8 606.0 C625.2 608.0 625.9 609.5 626.5 611.0 C627.1 612.5 627.6 614.5 628.3 614.5 C629.0 614.5 629.4 612.5 630.2 611.0 C631.0 609.5 631.9 608.0 632.5 606.0 C633.1 604.0 633.6 601.8 633.6 600.0 C633.6 598.2 633.5 597.3 632.6 596.0 C631.7 594.7 630.2 592.8 628.8 592.8 Z" fill="#f6f6f6" stroke="#f6f6f6" stroke-width="0.01" stroke-linejoin="round" filter="url(#Ld3c)"/><rect x="608.3" y="618.3" width="41.0" height="41.0" fill="url(#Ld4)"/><rect x="554" y="634.3" width="367.70000000000005" height="5.400000000000091" fill="#0d0d0d" fill-opacity="0.75"/><rect x="556" y="632.4" width="52" height="1.8" fill="url(#Hd0)"/><rect x="669" y="632.4" width="91" height="1.8" fill="url(#Hd1)"/><rect x="800" y="632.7" width="95" height="1.8" fill="url(#Hd2)"/><path d="M553 380.8 L740 383.5 L830 389 L922 399 L922 409 L830 397.5 L740 391.1 L553 388.5 Z" fill="#030303" fill-opacity="0.96"/><path d="M553 504.3 L770 505.2 L922 511.5 L922 520.5 L770 513.8 L553 512.9 Z" fill="#030303" fill-opacity="0.96"/><path d="M788.45 365.5 L790.75 365.5 L787.75 639.7 L785.45 639.7 Z" fill="#000000" fill-opacity="0.85"/></g><path d="M569.0 364.8 L572.2 372.6 L575.2 380.3 L578.2 388.1 L581.2 395.9 L584.0 403.7 L586.8 411.4 L589.5 419.2 L592.1 427.0 L594.7 434.8 L597.1 442.5 L599.5 450.3 L601.8 458.1 L604.0 465.9 L606.1 473.6 L608.2 481.4 L610.1 489.2 L612.0 496.9 L613.8 504.7 L615.5 512.5 L617.0 520.3 L618.5 528.0 L619.9 535.8 L621.2 543.6 L622.4 551.4 L623.5 559.1 L624.5 566.9 L625.4 574.7 L626.1 582.5 L626.8 590.2 L628.4 598.0 L628.4 598.0 L630.1 590.2 L630.7 582.5 L631.5 574.7 L632.4 566.9 L633.4 559.1 L634.6 551.4 L635.8 543.6 L637.1 535.8 L638.6 528.0 L640.1 520.3 L641.7 512.5 L643.4 504.7 L645.2 496.9 L647.1 489.2 L649.1 481.4 L651.2 473.6 L653.4 465.9 L655.6 458.1 L657.9 450.3 L660.4 442.5 L662.8 434.8 L665.4 427.0 L668.1 419.2 L670.8 411.4 L673.6 403.7 L676.5 395.9 L679.5 388.1 L682.5 380.3 L685.6 372.6 L688.8 364.8 Z" fill="#00008a"/></g>
<path d="M87.5 4 V279.7 H456.7" fill="none" stroke="#000" stroke-width="2"/><path d="M87.7 278.5 V296.5" stroke="#000" stroke-width="2"/><path d="M161.4 278.5 V296.5" stroke="#000" stroke-width="2"/><path d="M234.7 278.5 V296.5" stroke="#000" stroke-width="2"/><path d="M308.2 278.5 V296.5" stroke="#000" stroke-width="2"/><path d="M381.7 278.5 V296.5" stroke="#000" stroke-width="2"/><path d="M455.2 278.5 V296.5" stroke="#000" stroke-width="2"/><path d="M67.0 6 H88.5" stroke="#000" stroke-width="2"/><path d="M67.0 74.7 H88.5" stroke="#000" stroke-width="2"/><path d="M67.0 143.4 H88.5" stroke="#000" stroke-width="2"/><path d="M67.0 212.1 H88.5" stroke="#000" stroke-width="2"/><path d="M67.0 280.8 H88.5" stroke="#000" stroke-width="2"/><text x="80.1" y="317.1" font-size="12" font-weight="700" textLength="22.7" lengthAdjust="spacingAndGlyphs">-0.5</text><text x="161.5" y="317.1" font-size="12" font-weight="700" textLength="7.3" lengthAdjust="spacingAndGlyphs">0</text><text x="229.3" y="317.1" font-size="12" font-weight="700" textLength="18.3" lengthAdjust="spacingAndGlyphs">0.5</text><text x="308.3" y="317.1" font-size="12" font-weight="700" textLength="7.3" lengthAdjust="spacingAndGlyphs">1</text><text x="376.3" y="317.1" font-size="12" font-weight="700" textLength="18.3" lengthAdjust="spacingAndGlyphs">1.5</text><text x="455.3" y="317.1" font-size="12" font-weight="700" textLength="7.3" lengthAdjust="spacingAndGlyphs">2</text><text x="62.2" y="12.5" font-size="12" font-weight="700" textLength="7.3" lengthAdjust="spacingAndGlyphs">2</text><text x="51.2" y="81.2" font-size="12" font-weight="700" textLength="18.3" lengthAdjust="spacingAndGlyphs">1.5</text><text x="62.2" y="149.9" font-size="12" font-weight="700" textLength="7.3" lengthAdjust="spacingAndGlyphs">1</text><text x="51.2" y="218.6" font-size="12" font-weight="700" textLength="18.3" lengthAdjust="spacingAndGlyphs">0.5</text><text x="62.2" y="287.3" font-size="12" font-weight="700" textLength="7.3" lengthAdjust="spacingAndGlyphs">0</text>
<path d="M553.5 6 V279.7 H921.2" fill="none" stroke="#000" stroke-width="2"/><path d="M552.3 278.5 V296.5" stroke="#000" stroke-width="2"/><path d="M625.3 278.5 V296.5" stroke="#000" stroke-width="2"/><path d="M699.1 278.5 V296.5" stroke="#000" stroke-width="2"/><path d="M772.6 278.5 V296.5" stroke="#000" stroke-width="2"/><path d="M846.1 278.5 V296.5" stroke="#000" stroke-width="2"/><path d="M919.6 278.5 V296.5" stroke="#000" stroke-width="2"/><path d="M533.0 6 H554.5" stroke="#000" stroke-width="2"/><path d="M533.0 74.7 H554.5" stroke="#000" stroke-width="2"/><path d="M533.0 143.4 H554.5" stroke="#000" stroke-width="2"/><path d="M533.0 212.1 H554.5" stroke="#000" stroke-width="2"/><path d="M533.0 280.8 H554.5" stroke="#000" stroke-width="2"/><text x="544.7" y="317.1" font-size="12" font-weight="700" textLength="22.7" lengthAdjust="spacingAndGlyphs">-0.5</text><text x="625.4" y="317.1" font-size="12" font-weight="700" textLength="7.3" lengthAdjust="spacingAndGlyphs">0</text><text x="693.7" y="317.1" font-size="12" font-weight="700" textLength="18.3" lengthAdjust="spacingAndGlyphs">0.5</text><text x="772.7" y="317.1" font-size="12" font-weight="700" textLength="7.3" lengthAdjust="spacingAndGlyphs">1</text><text x="840.7" y="317.1" font-size="12" font-weight="700" textLength="18.3" lengthAdjust="spacingAndGlyphs">1.5</text><text x="919.7" y="317.1" font-size="12" font-weight="700" textLength="7.3" lengthAdjust="spacingAndGlyphs">2</text><text x="528.2" y="12.5" font-size="12" font-weight="700" textLength="7.3" lengthAdjust="spacingAndGlyphs">2</text><text x="517.2" y="81.2" font-size="12" font-weight="700" textLength="18.3" lengthAdjust="spacingAndGlyphs">1.5</text><text x="528.2" y="149.9" font-size="12" font-weight="700" textLength="7.3" lengthAdjust="spacingAndGlyphs">1</text><text x="517.2" y="218.6" font-size="12" font-weight="700" textLength="18.3" lengthAdjust="spacingAndGlyphs">0.5</text><text x="528.2" y="287.3" font-size="12" font-weight="700" textLength="7.3" lengthAdjust="spacingAndGlyphs">0</text>
<path d="M86.8 365 V639.9000000000001 H459.0" fill="none" stroke="#000" stroke-width="2"/><path d="M87.7 638.7 V656.7" stroke="#000" stroke-width="2"/><path d="M161.4 638.7 V656.7" stroke="#000" stroke-width="2"/><path d="M234.7 638.7 V656.7" stroke="#000" stroke-width="2"/><path d="M308.2 638.7 V656.7" stroke="#000" stroke-width="2"/><path d="M381.7 638.7 V656.7" stroke="#000" stroke-width="2"/><path d="M455.2 638.7 V656.7" stroke="#000" stroke-width="2"/><path d="M66.3 366.8 H87.8" stroke="#000" stroke-width="2"/><path d="M66.3 435.5 H87.8" stroke="#000" stroke-width="2"/><path d="M66.3 504.2 H87.8" stroke="#000" stroke-width="2"/><path d="M66.3 572.9 H87.8" stroke="#000" stroke-width="2"/><path d="M66.3 641.6 H87.8" stroke="#000" stroke-width="2"/><text x="78.7" y="678.3" font-size="13.5" font-weight="700" textLength="25.6" lengthAdjust="spacingAndGlyphs">-0.5</text><text x="161.1" y="678.3" font-size="13.5" font-weight="700" textLength="8.3" lengthAdjust="spacingAndGlyphs">0</text><text x="228.2" y="678.3" font-size="13.5" font-weight="700" textLength="20.6" lengthAdjust="spacingAndGlyphs">0.5</text><text x="307.9" y="678.3" font-size="13.5" font-weight="700" textLength="8.3" lengthAdjust="spacingAndGlyphs">1</text><text x="375.2" y="678.3" font-size="13.5" font-weight="700" textLength="20.6" lengthAdjust="spacingAndGlyphs">1.5</text><text x="454.9" y="678.3" font-size="13.5" font-weight="700" textLength="8.3" lengthAdjust="spacingAndGlyphs">2</text><text x="60.5" y="373.8" font-size="13.5" font-weight="700" textLength="8.3" lengthAdjust="spacingAndGlyphs">2</text><text x="48.2" y="442.5" font-size="13.5" font-weight="700" textLength="20.6" lengthAdjust="spacingAndGlyphs">1.5</text><text x="60.5" y="511.2" font-size="13.5" font-weight="700" textLength="8.3" lengthAdjust="spacingAndGlyphs">1</text><text x="48.2" y="579.9" font-size="13.5" font-weight="700" textLength="20.6" lengthAdjust="spacingAndGlyphs">0.5</text><text x="60.5" y="648.6" font-size="13.5" font-weight="700" textLength="8.3" lengthAdjust="spacingAndGlyphs">0</text>
<path d="M554 365.5 V639.9000000000001 H921.2" fill="none" stroke="#000" stroke-width="2"/><path d="M552.3 638.7 V656.7" stroke="#000" stroke-width="2"/><path d="M625.3 638.7 V656.7" stroke="#000" stroke-width="2"/><path d="M699.1 638.7 V656.7" stroke="#000" stroke-width="2"/><path d="M772.6 638.7 V656.7" stroke="#000" stroke-width="2"/><path d="M846.1 638.7 V656.7" stroke="#000" stroke-width="2"/><path d="M919.6 638.7 V656.7" stroke="#000" stroke-width="2"/><path d="M533.5 366.8 H555" stroke="#000" stroke-width="2"/><path d="M533.5 435.5 H555" stroke="#000" stroke-width="2"/><path d="M533.5 504.2 H555" stroke="#000" stroke-width="2"/><path d="M533.5 572.9 H555" stroke="#000" stroke-width="2"/><path d="M533.5 641.6 H555" stroke="#000" stroke-width="2"/><text x="543.3" y="678.3" font-size="13.5" font-weight="700" textLength="25.6" lengthAdjust="spacingAndGlyphs">-0.5</text><text x="625.0" y="678.3" font-size="13.5" font-weight="700" textLength="8.3" lengthAdjust="spacingAndGlyphs">0</text><text x="692.6" y="678.3" font-size="13.5" font-weight="700" textLength="20.6" lengthAdjust="spacingAndGlyphs">0.5</text><text x="772.3" y="678.3" font-size="13.5" font-weight="700" textLength="8.3" lengthAdjust="spacingAndGlyphs">1</text><text x="839.6" y="678.3" font-size="13.5" font-weight="700" textLength="20.6" lengthAdjust="spacingAndGlyphs">1.5</text><text x="919.3" y="678.3" font-size="13.5" font-weight="700" textLength="8.3" lengthAdjust="spacingAndGlyphs">2</text><text x="527.7" y="373.8" font-size="13.5" font-weight="700" textLength="8.3" lengthAdjust="spacingAndGlyphs">2</text><text x="515.4" y="442.5" font-size="13.5" font-weight="700" textLength="20.6" lengthAdjust="spacingAndGlyphs">1.5</text><text x="527.7" y="511.2" font-size="13.5" font-weight="700" textLength="8.3" lengthAdjust="spacingAndGlyphs">1</text><text x="515.4" y="579.9" font-size="13.5" font-weight="700" textLength="20.6" lengthAdjust="spacingAndGlyphs">0.5</text><text x="527.7" y="648.6" font-size="13.5" font-weight="700" textLength="8.3" lengthAdjust="spacingAndGlyphs">0</text>
<text x="222.8" y="346.4" font-size="23.5" font-weight="700" textLength="88.3" lengthAdjust="spacingAndGlyphs"><tspan font-style="italic">q</tspan><tspan font-size="14" font-style="italic" dy="5.5">xy</tspan><tspan dy="-5.5"> (Å</tspan><tspan font-size="16" dy="-9.6">-1</tspan><tspan dy="9.6">)</tspan></text>
<text x="698.2" y="348.6" font-size="23.5" font-weight="700" textLength="88.3" lengthAdjust="spacingAndGlyphs"><tspan font-style="italic">q</tspan><tspan font-size="14" font-style="italic" dy="5.5">xy</tspan><tspan dy="-5.5"> (Å</tspan><tspan font-size="16" dy="-9.6">-1</tspan><tspan dy="9.6">)</tspan></text>
<text x="225.6" y="716.2" font-size="23.5" font-weight="700" textLength="90.4" lengthAdjust="spacingAndGlyphs"><tspan font-style="italic">q</tspan><tspan font-size="14" font-style="italic" dy="5.5">xy</tspan><tspan dy="-5.5"> (Å</tspan><tspan font-size="16" dy="-9.6">-1</tspan><tspan dy="9.6">)</tspan></text>
<text x="691.4" y="716.2" font-size="23.5" font-weight="700" textLength="88.8" lengthAdjust="spacingAndGlyphs"><tspan font-style="italic">q</tspan><tspan font-size="14" font-style="italic" dy="5.5">xy</tspan><tspan dy="-5.5"> (Å</tspan><tspan font-size="16" dy="-9.6">-1</tspan><tspan dy="9.6">)</tspan></text>
<text transform="translate(27.2 176.7) rotate(-90)" font-size="24.5" font-weight="700" textLength="86" lengthAdjust="spacingAndGlyphs"><tspan font-style="italic">q</tspan><tspan font-size="14" font-style="italic" dy="5.5">z</tspan><tspan dy="-5.5"> (Å</tspan><tspan font-size="15" dy="-10">-1</tspan><tspan dy="10">)</tspan></text>
<text transform="translate(496.3 176.8) rotate(-90)" font-size="24.5" font-weight="700" textLength="84.7" lengthAdjust="spacingAndGlyphs"><tspan font-style="italic">q</tspan><tspan font-size="14" font-style="italic" dy="5.5">z</tspan><tspan dy="-5.5"> (Å</tspan><tspan font-size="15" dy="-10">-1</tspan><tspan dy="10">)</tspan></text>
<text transform="translate(31.8 545.9) rotate(-90)" font-size="24.5" font-weight="700" textLength="86.2" lengthAdjust="spacingAndGlyphs"><tspan font-style="italic">q</tspan><tspan font-size="14" font-style="italic" dy="5.5">z</tspan><tspan dy="-5.5"> (Å</tspan><tspan font-size="15" dy="-10">-1</tspan><tspan dy="10">)</tspan></text>
<text transform="translate(496.3 545.9) rotate(-90)" font-size="24.5" font-weight="700" textLength="86.2" lengthAdjust="spacingAndGlyphs"><tspan font-style="italic">q</tspan><tspan font-size="14" font-style="italic" dy="5.5">z</tspan><tspan dy="-5.5"> (Å</tspan><tspan font-size="15" dy="-10">-1</tspan><tspan dy="10">)</tspan></text>
<text x="3.8" y="24.5" font-size="26.5" font-weight="700">(a)</text>
<text x="478" y="24.5" font-size="26.5" font-weight="700">(c)</text>
<text x="12.5" y="383.5" font-size="26.5" font-weight="700">(b)</text>
<text x="477" y="386" font-size="26.5" font-weight="700">(d)</text>
<text x="953" y="47.5" font-size="26.5" font-weight="700">(e)</text>
<text x="268.8" y="45" font-size="32.4" font-weight="700" fill="#fff">PPQD-BDT</text>
<text x="718.6" y="44.6" font-size="32.4" font-weight="700" fill="#fff">PPQDT-BDT</text>
<text x="279" y="405" font-size="32.4" font-weight="700" fill="#fff">PPQD-BDT</text>
<text x="279" y="444" font-size="32.4" font-weight="700" fill="#fff">:ITIC</text>
<text x="724.5" y="402.3" font-size="32.4" font-weight="700" fill="#fff">PPQDT-BDT</text>
<text x="724.5" y="442.3" font-size="32.4" font-weight="700" fill="#fff">:ITIC</text>
<text x="690" y="100.5" font-size="20" font-weight="400" fill="#fff" stroke="#fff" stroke-width=".5">(010)</text>
<text x="679" y="252.5" font-size="20" font-weight="400" fill="#fff" stroke="#fff" stroke-width=".5">(100)</text>
<rect x="1000" y="71.2" width="334.5" height="510.00000000000006" fill="#fff" stroke="#000" stroke-width="2.4"/><path d="M999.8 70.0 V588" stroke="#000" stroke-width="3.4"/><path d="M1061.4 581.2 V585.5" stroke="#000" stroke-width="2"/><path d="M1100 581.2 V585.5" stroke="#000" stroke-width="2"/><path d="M1128.7 581.2 V585.5" stroke="#000" stroke-width="2"/><path d="M1150.1 581.2 V585.5" stroke="#000" stroke-width="2"/><path d="M1168.2 581.2 V585.5" stroke="#000" stroke-width="2"/><path d="M1183.8 581.2 V585.5" stroke="#000" stroke-width="2"/><path d="M1197.7 581.2 V585.5" stroke="#000" stroke-width="2"/><path d="M1209.2 581.2 V585.5" stroke="#000" stroke-width="2"/><path d="M1219.9 581.2 V585.5" stroke="#000" stroke-width="2"/><path d="M1229.8 581.2 V585.5" stroke="#000" stroke-width="2"/><path d="M1301 581.2 V585.5" stroke="#000" stroke-width="2"/><path d="M1238.8 581.2 V587.5" stroke="#000" stroke-width="3"/><path d="M999.8 186.4 C1000.7 186.5 1004.2 186.9 1006.6 187.0 C1009.0 187.1 1014.6 186.9 1018.1 187.4 C1021.6 187.9 1030.0 190.4 1033.5 191.2 C1037.0 192.0 1041.8 193.3 1045.1 193.7 C1048.4 194.1 1054.6 194.4 1058.6 194.5 C1062.6 194.6 1072.1 194.4 1075.9 194.1 C1079.7 193.8 1084.5 192.8 1087.5 192.2 C1090.5 191.6 1096.0 189.9 1099.0 189.3 C1102.0 188.7 1107.6 187.8 1110.6 187.4 C1113.6 187.0 1119.2 186.6 1122.2 186.4 C1125.2 186.2 1130.2 185.9 1133.7 186.0 C1137.2 186.1 1144.8 186.5 1149.1 186.8 C1153.4 187.1 1162.2 187.9 1167.0 188.3 C1171.8 188.7 1181.3 189.4 1186.3 189.6 C1191.3 189.8 1200.5 190.1 1205.5 189.9 C1210.5 189.7 1219.8 188.5 1224.8 188.0 C1229.8 187.5 1239.8 186.7 1244.1 186.0 C1248.4 185.3 1254.6 184.0 1257.6 183.0 C1260.6 182.0 1265.0 179.5 1267.2 178.5 C1269.4 177.5 1272.9 176.0 1274.9 175.6 C1276.9 175.2 1280.6 175.1 1282.6 175.6 C1284.6 176.1 1287.8 178.4 1290.3 179.8 C1292.8 181.2 1298.9 184.9 1301.9 186.2 C1304.9 187.5 1309.2 189.2 1313.4 189.8 C1317.6 190.4 1331.3 190.7 1334.0 190.8" fill="none" stroke="#000" stroke-width="2.4" stroke-linejoin="round"/><path d="M999.8 193.7 C1000.7 193.7 1005.5 194.2 1006.6 193.7 C1007.7 193.2 1007.9 191.0 1008.5 190.2 C1009.1 189.4 1010.2 188.1 1011.4 187.7 C1012.6 187.3 1016.2 186.6 1018.1 186.8 C1020.0 187.0 1023.8 188.6 1025.8 189.3 C1027.8 190.0 1031.5 191.6 1033.5 192.2 C1035.5 192.8 1038.7 193.5 1041.2 193.7 C1043.7 193.9 1050.8 193.8 1052.8 193.7 C1054.8 193.6 1055.5 194.5 1056.7 192.6 C1057.9 190.7 1060.4 183.6 1062.4 178.7 C1064.4 173.8 1069.6 160.9 1072.1 154.6 C1074.6 148.3 1079.2 137.1 1081.7 130.5 C1084.2 123.9 1089.5 108.4 1091.3 103.5 C1093.1 98.6 1094.4 94.7 1095.2 92.9 C1096.0 91.1 1096.9 89.8 1097.5 89.7 C1098.1 89.6 1099.1 90.2 1100.0 92.0 C1100.9 93.8 1103.4 98.2 1104.8 103.5 C1106.2 108.8 1109.1 124.9 1110.6 132.4 C1112.1 139.9 1115.3 156.4 1116.4 161.3 C1117.5 166.2 1118.5 168.2 1119.3 170.0 C1120.1 171.8 1120.8 173.7 1122.2 175.2 C1123.6 176.7 1127.4 180.3 1129.9 181.6 C1132.4 182.9 1136.6 184.7 1141.4 185.4 C1146.2 186.1 1161.2 186.6 1167.0 187.0 C1172.8 187.4 1181.3 188.1 1186.3 188.3 C1191.3 188.5 1200.5 188.5 1205.5 188.3 C1210.5 188.1 1219.8 187.2 1224.8 186.8 C1229.8 186.4 1239.8 186.0 1244.1 185.4 C1248.4 184.8 1254.6 183.5 1257.6 182.5 C1260.6 181.5 1265.0 178.7 1267.2 177.7 C1269.4 176.7 1272.9 175.0 1274.9 174.6 C1276.9 174.2 1280.6 174.1 1282.6 174.6 C1284.6 175.1 1287.8 177.4 1290.3 178.7 C1292.8 180.0 1298.9 183.3 1301.9 184.5 C1304.9 185.7 1309.2 187.6 1313.4 188.3 C1317.6 189.0 1331.3 189.7 1334.0 189.9" fill="none" stroke="#f00" stroke-width="2.4" stroke-linejoin="round"/><path d="M999.8 310.8 C1001.4 310.9 1008.9 311.0 1012.0 311.2 C1015.1 311.4 1020.4 311.7 1023.9 312.1 C1027.4 312.5 1034.8 313.7 1039.3 314.1 C1043.8 314.5 1053.8 314.9 1058.6 315.0 C1063.4 315.1 1072.1 315.2 1075.9 315.0 C1079.7 314.8 1085.0 314.2 1087.5 313.7 C1090.0 313.2 1093.2 311.6 1095.2 310.8 C1097.2 310.0 1100.7 308.1 1102.9 307.5 C1105.1 306.9 1109.0 306.2 1112.5 306.0 C1116.0 305.8 1125.6 305.9 1129.9 306.0 C1134.2 306.1 1141.5 306.4 1145.3 306.6 C1149.1 306.8 1156.0 307.6 1158.8 307.9 C1161.6 308.2 1164.2 308.4 1167.0 308.9 C1169.8 309.4 1175.7 311.3 1180.0 311.8 C1184.3 312.3 1194.0 312.7 1200.0 312.8 C1206.0 312.9 1220.2 312.7 1226.0 312.3 C1231.8 311.9 1240.3 310.3 1245.0 309.5 C1249.7 308.7 1258.0 306.7 1262.2 305.9 C1266.4 305.1 1273.9 303.4 1277.6 303.3 C1281.3 303.2 1287.2 304.6 1290.5 305.4 C1293.8 306.2 1299.6 308.3 1303.3 309.2 C1307.0 310.1 1314.7 311.6 1318.7 312.0 C1322.7 312.4 1332.0 312.3 1334.0 312.3" fill="none" stroke="#000" stroke-width="2.4" stroke-linejoin="round"/><path d="M999.8 315.0 C1000.9 315.0 1007.1 315.4 1008.5 315.0 C1009.9 314.6 1009.8 312.4 1010.4 311.8 C1011.0 311.2 1011.5 310.3 1013.3 310.2 C1015.1 310.1 1021.3 310.9 1023.9 311.4 C1026.5 311.9 1030.7 313.3 1033.5 313.7 C1036.3 314.1 1042.1 314.5 1045.1 314.6 C1048.1 314.7 1054.7 314.7 1056.7 314.1 C1058.7 313.5 1058.5 313.6 1060.5 309.8 C1062.5 306.0 1069.3 290.7 1072.1 284.8 C1074.9 278.9 1079.2 269.8 1081.7 264.5 C1084.2 259.2 1089.3 248.3 1091.3 244.3 C1093.3 240.3 1095.8 235.4 1097.1 233.7 C1098.4 232.0 1100.0 231.2 1101.0 231.2 C1102.0 231.2 1103.6 231.5 1104.8 233.7 C1106.0 235.9 1109.1 244.3 1110.6 248.2 C1112.1 252.1 1114.9 259.8 1116.4 263.6 C1117.9 267.4 1120.7 274.0 1122.2 277.1 C1123.7 280.2 1126.4 285.5 1127.9 287.7 C1129.4 289.9 1131.9 292.9 1133.7 294.4 C1135.5 295.9 1139.4 298.2 1141.4 299.2 C1143.4 300.2 1146.8 301.3 1149.1 302.1 C1151.4 302.9 1156.5 304.4 1158.8 305.0 C1161.1 305.6 1164.9 306.0 1167.0 306.4 C1169.1 306.8 1172.4 307.7 1174.9 308.2 C1177.4 308.7 1182.7 309.6 1186.0 310.0 C1189.3 310.4 1195.3 311.2 1200.5 311.3 C1205.7 311.4 1219.5 311.4 1226.2 311.0 C1232.9 310.6 1246.5 308.8 1251.9 307.9 C1257.3 307.0 1264.1 304.8 1267.4 304.1 C1270.7 303.4 1274.9 302.4 1277.6 302.3 C1280.3 302.2 1284.6 302.7 1287.9 303.5 C1291.2 304.3 1299.3 307.4 1303.3 308.4 C1307.3 309.4 1314.7 310.9 1318.7 311.3 C1322.7 311.7 1332.0 311.7 1334.0 311.8" fill="none" stroke="#f00" stroke-width="2.4" stroke-linejoin="round"/><path d="M999.8 432.1 C1001.7 432.2 1010.9 432.4 1014.3 432.9 C1017.7 433.4 1022.8 435.3 1025.8 436.3 C1028.8 437.3 1034.4 439.8 1037.4 440.6 C1040.4 441.4 1044.4 441.9 1048.9 442.1 C1053.4 442.3 1066.8 442.5 1072.1 442.5 C1077.4 442.5 1086.3 442.5 1089.4 442.1 C1092.5 441.7 1094.7 440.8 1096.2 439.8 C1097.7 438.8 1099.8 435.6 1101.0 434.4 C1102.2 433.2 1104.6 430.8 1105.8 430.2 C1107.0 429.6 1109.0 429.3 1110.6 429.6 C1112.2 429.9 1115.3 431.9 1118.3 432.5 C1121.3 433.1 1129.7 434.0 1133.7 434.4 C1137.7 434.8 1144.8 435.0 1149.1 435.4 C1153.4 435.8 1161.6 437.0 1167.0 437.3 C1172.4 437.6 1182.6 438.0 1190.3 437.8 C1198.0 437.6 1218.9 436.6 1226.2 435.9 C1233.5 435.2 1242.1 433.6 1246.8 432.3 C1251.5 431.0 1258.7 427.9 1262.2 426.1 C1265.7 424.3 1271.5 419.6 1273.8 418.4 C1276.1 417.2 1278.2 416.4 1280.2 416.6 C1282.2 416.8 1286.5 418.1 1289.2 419.7 C1291.9 421.3 1297.6 426.5 1300.8 428.6 C1304.0 430.7 1309.3 434.4 1313.6 435.6 C1317.9 436.8 1331.3 437.8 1334.0 438.1" fill="none" stroke="#000" stroke-width="2.4" stroke-linejoin="round"/><path d="M999.8 442.5 C1001.0 442.5 1007.6 443.6 1008.9 442.5 C1010.2 441.4 1008.8 435.8 1009.5 434.4 C1010.2 433.0 1012.9 431.7 1014.3 431.5 C1015.7 431.3 1018.2 431.9 1020.0 432.5 C1021.8 433.1 1025.8 435.2 1027.8 436.3 C1029.8 437.4 1033.8 439.8 1035.5 440.6 C1037.2 441.4 1039.0 441.9 1041.2 442.1 C1043.4 442.3 1050.8 442.7 1052.8 442.5 C1054.8 442.3 1055.7 441.7 1056.7 440.2 C1057.7 438.7 1059.5 433.6 1060.5 430.6 C1061.5 427.6 1063.3 420.4 1064.4 417.1 C1065.5 413.8 1067.7 408.6 1069.2 405.5 C1070.7 402.4 1074.0 396.0 1075.9 393.0 C1077.8 390.0 1081.6 384.9 1083.6 382.4 C1085.6 379.9 1089.4 375.3 1091.3 373.7 C1093.2 372.1 1096.6 370.1 1098.1 369.9 C1099.6 369.7 1101.5 370.7 1102.9 371.8 C1104.3 372.9 1107.2 376.1 1108.7 378.5 C1110.2 380.9 1113.0 386.6 1114.5 390.1 C1116.0 393.6 1118.7 402.0 1120.2 405.5 C1121.7 409.0 1124.5 414.7 1126.0 417.1 C1127.5 419.5 1130.0 422.4 1131.8 423.8 C1133.6 425.2 1137.3 427.2 1139.5 428.2 C1141.7 429.2 1146.6 430.7 1149.1 431.5 C1151.6 432.3 1156.5 433.5 1158.8 434.0 C1161.1 434.5 1163.6 435.1 1167.0 435.4 C1170.4 435.7 1180.6 436.2 1185.0 436.3 C1189.4 436.4 1195.1 436.5 1200.5 436.3 C1205.9 436.1 1220.2 435.3 1226.2 434.6 C1232.2 433.9 1242.1 432.5 1246.8 431.2 C1251.5 429.9 1258.7 426.7 1262.2 424.8 C1265.7 422.9 1271.5 417.9 1273.8 416.6 C1276.1 415.3 1278.4 414.9 1280.2 415.0 C1282.0 415.1 1285.6 415.7 1287.9 417.1 C1290.2 418.5 1295.2 423.9 1298.2 426.1 C1301.2 428.3 1307.3 432.4 1311.0 433.8 C1314.7 435.2 1323.4 436.6 1326.4 437.1 C1329.4 437.6 1333.0 437.5 1334.0 437.6" fill="none" stroke="#f00" stroke-width="2.4" stroke-linejoin="round"/><path d="M999.8 565.0 C1001.7 565.1 1010.9 565.6 1014.3 566.0 C1017.7 566.4 1022.8 567.2 1025.8 567.9 C1028.8 568.5 1033.9 570.4 1037.4 571.0 C1040.9 571.6 1047.8 572.2 1052.8 572.4 C1057.8 572.6 1071.4 572.5 1075.9 572.4 C1080.4 572.3 1085.0 571.9 1087.5 571.4 C1090.0 570.9 1093.4 569.7 1095.2 568.5 C1097.0 567.3 1099.6 564.2 1101.0 561.8 C1102.4 559.4 1104.6 552.4 1105.8 550.2 C1107.0 548.0 1109.4 545.0 1110.6 544.8 C1111.8 544.6 1113.9 547.0 1115.4 548.3 C1116.9 549.6 1120.3 553.5 1122.2 555.0 C1124.1 556.5 1127.7 558.8 1129.9 559.8 C1132.1 560.8 1136.5 561.9 1139.5 562.7 C1142.5 563.5 1149.4 565.1 1153.0 565.6 C1156.6 566.1 1162.8 566.3 1167.0 566.8 C1171.2 567.3 1178.7 569.1 1185.1 569.5 C1191.5 569.9 1208.6 570.3 1216.0 570.2 C1223.4 570.1 1235.7 569.4 1241.7 569.0 C1247.7 568.6 1257.5 567.3 1262.2 566.9 C1266.9 566.5 1273.9 565.6 1277.6 565.6 C1281.3 565.6 1287.2 566.4 1290.5 566.9 C1293.8 567.4 1299.6 569.0 1303.3 569.5 C1307.0 570.0 1314.7 570.5 1318.7 570.8 C1322.7 571.1 1332.0 571.7 1334.0 571.8" fill="none" stroke="#000" stroke-width="2.4" stroke-linejoin="round"/><path d="M999.8 572.7 C1001.0 572.7 1007.6 573.5 1008.9 572.7 C1010.2 571.9 1009.3 567.7 1010.0 566.6 C1010.7 565.5 1013.0 564.8 1014.3 564.6 C1015.6 564.4 1018.2 564.7 1020.0 565.2 C1021.8 565.7 1025.8 567.7 1027.8 568.5 C1029.8 569.3 1033.3 570.9 1035.5 571.4 C1037.7 571.9 1042.6 572.3 1045.1 572.4 C1047.6 572.5 1053.1 572.8 1054.7 572.4 C1056.3 572.0 1056.7 571.4 1057.6 569.5 C1058.5 567.6 1060.4 561.4 1061.5 557.9 C1062.6 554.4 1064.9 546.5 1066.3 542.5 C1067.7 538.5 1070.6 530.6 1072.1 527.1 C1073.6 523.6 1076.1 518.8 1077.9 515.5 C1079.7 512.2 1083.6 505.5 1085.6 502.0 C1087.6 498.5 1091.6 491.2 1093.3 488.5 C1095.0 485.8 1097.9 482.3 1099.0 481.2 C1100.1 480.1 1100.9 480.2 1101.9 480.4 C1102.9 480.6 1105.2 481.1 1106.8 482.4 C1108.4 483.7 1112.5 488.0 1114.5 490.5 C1116.5 493.0 1120.2 498.5 1122.2 502.0 C1124.2 505.5 1127.9 513.4 1129.9 517.4 C1131.9 521.4 1135.6 529.1 1137.6 532.9 C1139.6 536.7 1143.3 543.4 1145.3 546.3 C1147.3 549.2 1151.0 553.2 1153.0 555.0 C1155.0 556.8 1158.9 559.3 1160.7 560.2 C1162.5 561.1 1165.2 561.7 1167.0 562.1 C1168.8 562.5 1171.2 563.0 1174.9 563.6 C1178.6 564.2 1189.4 566.2 1195.4 566.9 C1201.4 567.6 1215.1 568.6 1221.1 568.7 C1227.1 568.8 1236.4 568.2 1241.7 567.7 C1247.0 567.2 1257.5 565.8 1262.2 564.9 C1266.9 564.0 1274.5 561.6 1277.6 560.5 C1280.7 559.4 1284.3 557.1 1286.0 556.3 C1287.7 555.5 1289.5 554.2 1290.5 554.1 C1291.5 554.0 1293.2 555.0 1294.0 555.5 C1294.8 556.0 1295.4 556.6 1296.9 557.9 C1298.4 559.2 1303.1 564.1 1305.9 565.6 C1308.7 567.1 1315.0 568.8 1318.7 569.5 C1322.4 570.2 1332.0 571.1 1334.0 571.3" fill="none" stroke="#f00" stroke-width="2.4" stroke-linejoin="round"/><path d="M1290.5 494 V580" stroke="#555" stroke-width="1" stroke-dasharray="3 2.5"/><path d="M1000 56.3 H1045" stroke="#000" stroke-width="1.6"/><path d="M1174 57 H1218.5" stroke="#f00" stroke-width="4"/><text x="1049" y="62.4" font-size="19" font-weight="700">In plane</text><text x="1223.7" y="62.4" font-size="19" font-weight="700">Out of plane</text><text x="1132.5" y="167.8" font-size="23" font-weight="700" textLength="181" lengthAdjust="spacingAndGlyphs">PPQD-BDT:ITIC</text><text x="1154.3" y="287.4" font-size="23" font-weight="700" textLength="126" lengthAdjust="spacingAndGlyphs">PPQD-BDT</text><text x="1129.9" y="406.8" font-size="23" font-weight="700" textLength="196.5" lengthAdjust="spacingAndGlyphs">PPQDT-BDT:ITIC</text><text x="1144" y="530.9" font-size="23" font-weight="700" textLength="141.3" lengthAdjust="spacingAndGlyphs">PPQDT-BDT</text><text x="1273.8" y="489.5" font-size="16" font-weight="400" textLength="43.7" lengthAdjust="spacingAndGlyphs">(010)</text><text x="982.4" y="611" font-size="22" font-weight="700">0.1</text><text x="1239.4" y="610.6" font-size="22" font-weight="700" text-anchor="middle">1</text><text transform="translate(972 325.5) rotate(-90)" text-anchor="middle" font-size="24.5" font-weight="700">Intensity</text><g clip-path="url(#clipq)"><text x="1136.3" y="643.5" font-size="22" font-weight="700" textLength="61.7" lengthAdjust="spacingAndGlyphs"><tspan font-style="italic">q</tspan>(Å<tspan font-size="13" dy="-9">-1</tspan><tspan dy="9">)</tspan></text></g>
</svg>
</body></html>
